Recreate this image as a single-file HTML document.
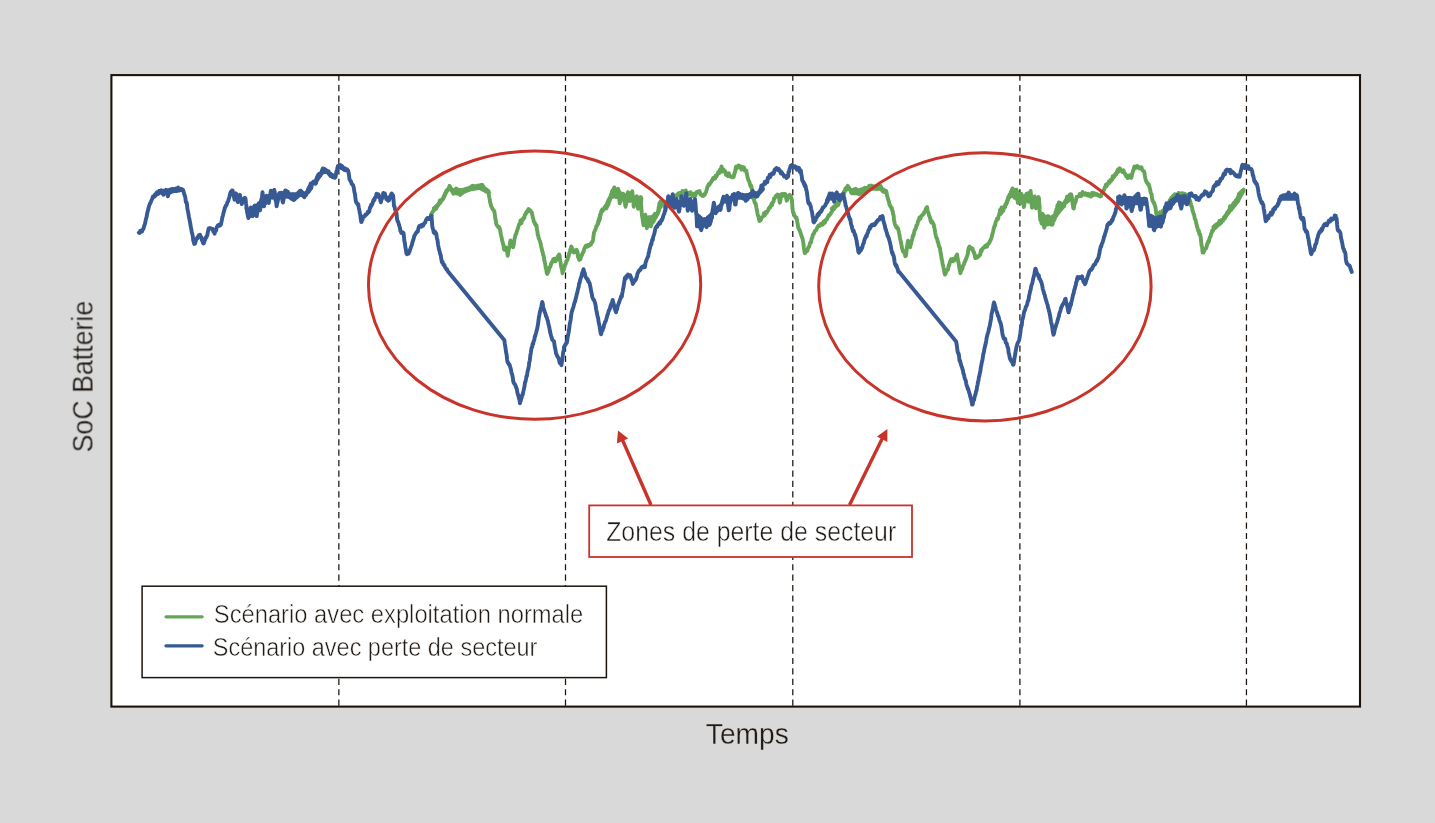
<!DOCTYPE html>
<html><head><meta charset="utf-8">
<style>
html,body{margin:0;padding:0;}
body{width:1435px;height:823px;background:#d9d9d9;overflow:hidden;position:relative;}
svg{position:absolute;left:0;top:0;will-change:transform;}
.t{font-family:"Liberation Sans",sans-serif;fill:#211a14;opacity:0.995;}
.w{stroke:#ffffff;stroke-width:0.5px;}
.g{stroke:#d9d9d9;stroke-width:0.3px;}
</style></head>
<body>
<svg width="1435" height="823" viewBox="0 0 1435 823">
<rect x="111.4" y="75.1" width="1248.6" height="631.5" fill="#ffffff"/>
<g stroke="#1c140c" stroke-width="1.25" stroke-dasharray="6.2 4.215" stroke-dashoffset="-0.355" fill="none">
<line x1="338.85" y1="74.3" x2="338.85" y2="706" />
<line x1="565.5" y1="74.3" x2="565.5" y2="706" />
<line x1="792.8" y1="74.3" x2="792.8" y2="706" />
<line x1="1019.9" y1="74.3" x2="1019.9" y2="706" />
<line x1="1246.45" y1="74.3" x2="1246.45" y2="706" />
</g>
<path d="M431.0,214.4 L431.5,215.3 L432.0,212.4 L432.5,212.4 L432.9,211.4 L433.4,211.1 L433.9,208.8 L434.4,209.0 L434.9,208.2 L435.4,207.4 L435.9,206.6 L436.3,206.2 L436.8,205.9 L437.3,205.5 L437.8,205.1 L438.3,203.9 L438.8,204.2 L439.3,202.9 L439.8,200.5 L440.2,202.9 L440.7,201.2 L441.2,200.4 L441.7,200.3 L442.2,199.8 L442.6,199.0 L443.1,198.2 L443.6,197.4 L444.1,195.6 L444.6,195.2 L445.1,193.2 L445.6,193.3 L446.1,191.5 L446.6,190.4 L447.1,190.2 L447.6,189.7 L448.1,189.2 L448.5,188.4 L449.0,188.1 L449.5,185.8 L450.0,186.7 L450.5,187.6 L451.0,188.5 L451.5,189.4 L451.9,191.1 L452.4,191.1 L452.9,192.4 L453.4,193.5 L453.9,191.8 L454.4,191.9 L454.9,190.3 L455.3,189.6 L455.8,190.3 L456.3,188.6 L456.8,189.6 L457.3,190.1 L457.8,191.0 L458.2,191.1 L458.7,192.1 L459.2,193.4 L459.7,193.2 L460.2,194.9 L460.7,194.4 L461.2,193.1 L461.7,193.3 L462.1,192.2 L462.6,192.9 L463.1,192.0 L463.6,190.9 L464.1,190.6 L464.6,189.7 L465.1,190.0 L465.5,190.2 L466.0,189.7 L466.5,190.2 L467.0,190.3 L467.5,189.8 L467.9,189.6 L468.4,190.0 L468.9,189.6 L469.4,188.9 L469.9,188.9 L470.4,188.0 L470.9,188.3 L471.3,187.0 L471.8,186.2 L472.3,186.2 L472.8,185.7 L473.2,185.8 L473.7,186.1 L474.1,186.8 L474.6,187.6 L475.0,187.7 L475.5,186.5 L476.0,187.1 L476.5,186.8 L477.0,186.6 L477.5,186.7 L478.0,185.6 L478.5,186.2 L479.0,185.7 L479.5,185.5 L479.9,185.5 L480.4,185.3 L480.9,185.1 L481.4,184.9 L481.8,185.2 L482.3,185.0 L482.8,186.6 L483.2,186.9 L483.6,187.7 L484.1,188.3 L484.6,188.7 L485.0,189.7 L485.5,190.2 L486.0,191.5 L486.5,189.3 L486.9,191.0 L487.4,191.3 L487.9,190.9 L488.4,191.0 L488.8,194.2 L489.3,197.3 L489.7,199.1 L490.2,202.6 L490.7,204.0 L491.2,206.2 L491.7,207.1 L492.1,208.0 L492.6,209.2 L493.0,209.5 L493.5,210.3 L493.9,210.6 L494.4,211.7 L494.9,215.3 L495.4,219.0 L495.9,221.1 L496.4,224.4 L496.9,225.1 L497.3,226.0 L497.8,226.1 L498.3,227.4 L498.8,227.5 L499.2,227.1 L499.7,228.5 L500.2,230.1 L500.7,233.6 L501.2,235.9 L501.7,237.8 L502.1,240.5 L502.6,241.9 L503.0,243.9 L503.5,244.7 L503.9,248.8 L504.4,249.8 L504.9,248.6 L505.4,249.5 L505.9,247.5 L506.4,247.8 L506.8,250.0 L507.3,253.2 L507.7,255.8 L508.1,252.9 L508.6,250.2 L509.0,248.8 L509.5,246.1 L509.9,243.3 L510.4,240.5 L510.8,241.4 L511.3,242.1 L511.8,243.5 L512.2,244.6 L512.6,246.0 L513.1,247.2 L513.6,245.0 L514.1,241.7 L514.6,238.6 L515.1,236.5 L515.6,234.5 L516.1,234.4 L516.6,232.1 L517.1,230.6 L517.6,229.1 L518.1,227.8 L518.6,226.0 L519.1,224.4 L519.6,224.6 L520.0,223.6 L520.5,220.4 L521.0,221.7 L521.5,223.2 L521.9,219.5 L522.4,219.9 L522.9,219.9 L523.3,218.5 L523.8,217.8 L524.3,217.9 L524.7,215.2 L525.2,214.3 L525.7,214.2 L526.1,212.9 L526.6,211.8 L527.1,212.1 L527.6,211.0 L528.0,210.0 L528.5,209.1 L529.0,209.3 L529.4,210.2 L529.9,210.4 L530.4,210.5 L530.9,211.8 L531.3,212.2 L531.8,212.4 L532.3,214.8 L532.8,217.6 L533.3,218.7 L533.8,221.8 L534.2,222.2 L534.7,222.5 L535.1,224.4 L535.6,224.4 L536.0,226.0 L536.5,225.1 L536.9,229.5 L537.4,231.5 L537.8,235.1 L538.2,235.7 L538.7,238.1 L539.1,239.0 L539.6,240.4 L540.0,241.1 L540.5,243.2 L541.0,245.6 L541.4,247.3 L541.9,249.5 L542.3,251.4 L542.8,252.6 L543.2,255.2 L543.7,256.0 L544.2,259.7 L544.7,261.8 L545.2,264.2 L545.7,267.6 L546.2,269.2 L546.7,272.6 L547.2,273.9 L547.6,272.9 L548.1,272.1 L548.5,270.9 L548.9,270.0 L549.4,267.4 L549.8,267.2 L550.3,266.8 L550.8,265.0 L551.3,263.1 L551.7,263.1 L552.2,261.7 L552.7,261.2 L553.2,259.2 L553.6,259.9 L554.1,259.9 L554.5,258.7 L554.9,261.2 L555.4,261.3 L555.8,260.5 L556.3,260.2 L556.8,259.1 L557.3,258.8 L557.7,256.5 L558.2,256.7 L558.7,255.4 L559.2,254.5 L559.7,256.5 L560.1,260.1 L560.6,262.8 L561.1,266.4 L561.6,268.5 L562.0,269.4 L562.5,273.2 L563.0,270.4 L563.5,270.3 L564.0,268.8 L564.4,266.8 L564.9,265.0 L565.4,264.5 L565.9,263.2 L566.3,261.3 L566.8,260.5 L567.2,260.5 L567.6,258.9 L568.1,257.1 L568.5,256.5 L569.0,254.0 L569.4,253.0 L569.9,252.7 L570.3,249.5 L570.8,249.4 L571.2,246.5 L571.7,246.9 L572.1,248.4 L572.5,250.0 L573.0,250.0 L573.5,251.5 L573.9,252.5 L574.4,251.1 L574.8,252.1 L575.2,252.0 L575.7,250.2 L576.1,250.4 L576.6,249.8 L577.0,251.2 L577.5,251.7 L577.9,256.8 L578.3,257.0 L578.8,258.8 L579.2,259.9 L579.7,259.4 L580.1,258.5 L580.5,259.2 L581.0,255.5 L581.5,255.8 L581.9,255.2 L582.4,253.7 L582.9,252.7 L583.4,252.2 L583.9,250.0 L584.4,248.4 L584.9,247.4 L585.4,247.3 L585.9,245.8 L586.4,246.4 L586.9,246.2 L587.4,246.7 L587.9,245.1 L588.4,246.1 L588.9,245.8 L589.4,245.2 L589.9,245.2 L590.4,244.1 L590.8,244.7 L591.2,243.0 L591.7,242.7 L592.1,241.7 L592.6,241.8 L593.0,240.1 L593.5,236.0 L593.9,233.1 L594.4,231.6 L594.9,230.7 L595.3,229.5 L595.8,228.6 L596.3,226.2 L596.8,226.3 L597.3,224.4 L597.8,224.4 L598.2,223.7 L598.7,221.1 L599.2,220.7 L599.7,219.5 L600.2,216.8 L600.7,213.3 L601.2,212.6 L601.7,210.7 L602.2,209.5 L602.7,210.6 L603.1,209.4 L603.6,209.1 L604.1,208.8 L604.6,207.3 L605.1,208.2 L605.5,206.2 L606.0,207.6 L606.5,208.2 L607.0,206.8 L607.5,204.6 L608.0,205.1 L608.5,204.3 L609.0,202.0 L609.5,200.4 L610.0,199.9 L610.4,197.6 L610.9,196.1 L611.4,194.5 L611.9,192.0 L612.4,191.5 L612.8,189.9 L613.3,191.8 L613.8,188.8 L614.3,187.4 L614.8,189.7 L615.3,191.2 L615.8,196.1 L616.3,197.1 L616.8,194.1 L617.2,194.1 L617.7,191.7 L618.2,188.8 L618.7,193.7 L619.2,198.0 L619.7,203.4 L620.2,202.0 L620.7,199.6 L621.2,199.8 L621.6,199.2 L622.1,197.2 L622.6,195.9 L623.1,193.7 L623.6,195.8 L624.1,199.2 L624.5,200.7 L625.0,203.8 L625.5,206.8 L626.0,204.5 L626.5,203.0 L626.9,198.1 L627.4,195.1 L627.9,192.2 L628.4,192.9 L628.9,196.7 L629.4,198.1 L629.9,201.0 L630.4,197.9 L630.9,195.9 L631.3,195.3 L631.8,192.9 L632.3,191.3 L632.8,197.0 L633.3,201.4 L633.8,206.8 L634.3,205.0 L634.8,204.4 L635.2,202.1 L635.7,200.3 L636.2,199.1 L636.7,196.1 L637.2,200.5 L637.6,203.8 L638.1,208.8 L638.6,205.8 L639.1,202.9 L639.6,202.1 L640.1,199.1 L640.6,197.1 L641.1,203.7 L641.5,210.1 L642.0,215.6 L642.5,218.2 L643.0,222.2 L643.5,225.3 L644.0,223.6 L644.5,220.0 L644.9,218.0 L645.4,214.6 L645.9,219.0 L646.4,222.9 L646.9,228.2 L647.4,225.9 L647.9,222.4 L648.3,222.3 L648.8,219.2 L649.3,217.5 L649.8,221.5 L650.3,222.4 L650.8,226.3 L651.3,224.9 L651.8,223.5 L652.3,221.6 L652.7,220.5 L653.2,218.0 L653.7,216.3 L654.2,215.6 L654.7,214.1 L655.2,214.4 L655.7,213.9 L656.2,214.3 L656.6,213.5 L657.1,212.9 L657.6,212.5 L658.1,212.7 L658.6,207.9 L659.0,205.9 L659.5,202.9 L660.0,203.1 L660.5,201.5 L661.0,202.2 L661.5,202.7 L662.0,202.0 L662.5,202.4 L663.0,204.1 L663.4,204.5 L663.9,205.8 L664.4,207.2 L664.8,205.9 L665.3,205.3 L665.7,203.0 L666.2,203.7 L666.6,202.4 L667.1,202.4 L667.5,201.0 L668.0,201.0 L668.5,200.8 L669.0,199.6 L669.5,200.1 L670.0,201.1 L670.5,197.9 L671.0,197.5 L671.5,198.8 L672.0,198.0 L672.5,198.5 L672.9,197.2 L673.4,197.8 L673.8,197.4 L674.2,197.3 L674.7,197.8 L675.1,195.7 L675.6,196.1 L676.1,196.5 L676.6,195.8 L677.1,194.8 L677.5,195.6 L678.0,193.7 L678.5,193.3 L679.0,195.4 L679.5,194.2 L680.0,193.0 L680.5,195.4 L681.0,194.6 L681.5,193.0 L681.9,192.5 L682.4,191.0 L682.9,192.8 L683.4,192.7 L683.9,191.3 L684.4,194.3 L684.8,191.3 L685.3,193.0 L685.8,190.5 L686.2,192.8 L686.7,194.4 L687.2,193.2 L687.7,192.9 L688.2,192.7 L688.7,193.1 L689.2,194.0 L689.6,194.6 L690.1,193.7 L690.6,192.2 L691.1,194.2 L691.6,194.5 L692.1,195.1 L692.6,196.3 L693.0,194.3 L693.5,194.4 L694.0,193.7 L694.5,194.9 L695.0,194.2 L695.5,195.5 L696.0,192.6 L696.5,193.2 L697.0,191.8 L697.4,191.7 L697.9,191.8 L698.4,192.1 L698.9,191.3 L699.4,191.1 L699.9,192.2 L700.4,194.4 L700.8,194.2 L701.3,194.9 L701.8,195.3 L702.3,195.3 L702.8,196.1 L703.2,195.9 L703.7,195.5 L704.1,194.5 L704.6,194.9 L705.0,193.4 L705.5,192.9 L706.0,192.2 L706.5,190.2 L706.9,189.3 L707.4,187.0 L707.9,186.1 L708.4,185.0 L708.9,184.0 L709.3,185.0 L709.8,183.9 L710.3,183.0 L710.8,182.2 L711.3,182.0 L711.8,180.4 L712.3,180.5 L712.8,179.4 L713.2,177.9 L713.7,178.4 L714.2,177.4 L714.7,177.4 L715.2,178.4 L715.7,175.6 L716.2,175.3 L716.6,176.4 L717.1,174.9 L717.6,174.4 L718.1,172.3 L718.6,173.1 L719.1,171.4 L719.5,173.1 L720.0,169.5 L720.5,169.1 L721.0,169.1 L721.5,166.5 L722.0,168.8 L722.5,171.7 L722.9,169.8 L723.4,169.2 L723.9,170.7 L724.4,170.6 L724.9,170.9 L725.4,171.7 L725.9,174.8 L726.4,174.9 L726.9,175.1 L727.4,174.0 L727.9,176.1 L728.4,173.9 L728.8,173.2 L729.3,176.4 L729.8,176.4 L730.3,176.4 L730.8,176.5 L731.3,176.4 L731.8,177.3 L732.2,177.3 L732.7,177.0 L733.2,177.3 L733.7,176.9 L734.2,174.6 L734.7,172.4 L735.1,172.2 L735.6,168.5 L736.1,166.7 L736.6,168.6 L737.1,167.0 L737.5,166.3 L738.0,167.2 L738.5,165.4 L739.0,165.7 L739.5,165.9 L740.0,166.1 L740.5,166.8 L741.0,167.8 L741.4,169.6 L741.9,168.4 L742.4,167.1 L742.9,168.6 L743.4,168.0 L743.9,167.3 L744.4,170.2 L744.8,170.6 L745.3,170.4 L745.8,170.7 L746.3,170.6 L746.8,173.7 L747.3,176.0 L747.8,178.3 L748.3,180.0 L748.8,180.9 L749.2,181.3 L749.7,183.2 L750.2,185.1 L750.7,186.6 L751.2,185.7 L751.7,188.1 L752.2,191.2 L752.6,193.8 L753.1,197.8 L753.6,199.3 L754.1,199.9 L754.6,202.3 L755.1,203.2 L755.6,203.6 L756.1,205.7 L756.5,208.1 L757.0,210.5 L757.5,213.3 L758.0,215.7 L758.5,216.5 L759.0,219.5 L759.5,221.1 L760.0,219.4 L760.5,220.5 L761.0,219.5 L761.4,217.7 L761.9,217.3 L762.4,217.2 L762.9,216.7 L763.4,216.2 L763.9,213.3 L764.3,214.9 L764.8,215.3 L765.3,213.3 L765.8,212.0 L766.3,212.4 L766.8,212.7 L767.3,211.3 L767.8,210.7 L768.2,210.4 L768.7,208.5 L769.2,208.2 L769.7,207.3 L770.2,207.5 L770.7,205.5 L771.2,205.3 L771.7,203.6 L772.1,205.1 L772.6,203.1 L773.1,201.7 L773.6,201.5 L774.1,198.2 L774.5,198.5 L775.0,197.6 L775.5,196.9 L776.0,195.8 L776.5,196.1 L777.0,194.8 L777.5,194.5 L777.9,196.1 L778.4,197.1 L778.9,194.9 L779.4,200.7 L779.9,202.7 L780.4,200.2 L780.8,197.6 L781.3,196.3 L781.8,193.9 L782.3,194.5 L782.8,195.8 L783.3,194.1 L783.8,193.7 L784.2,195.5 L784.7,194.0 L785.2,194.0 L785.7,194.9 L786.2,198.3 L786.7,200.7 L787.2,199.6 L787.7,197.8 L788.2,197.6 L788.6,196.4 L789.1,195.7 L789.6,194.9 L790.1,195.2 L790.6,197.4 L791.1,197.5 L791.6,198.8 L792.1,202.9 L792.5,208.6 L793.0,212.4 L793.5,212.7 L794.0,214.9 L794.4,215.7 L794.9,216.0 L795.4,217.2 L795.9,217.9 L796.3,217.3 L796.8,219.0 L797.3,222.1 L797.7,224.1 L798.2,227.7 L798.6,228.0 L799.1,229.6 L799.5,229.8 L800.0,231.3 L800.4,232.1 L800.8,233.7 L801.3,235.4 L801.7,236.3 L802.2,238.0 L802.6,238.6 L803.0,241.0 L803.5,244.2 L803.9,247.8 L804.4,251.1 L804.8,253.2 L805.3,252.9 L805.8,251.6 L806.2,250.6 L806.7,250.1 L807.2,251.0 L807.7,249.6 L808.2,247.7 L808.7,247.0 L809.2,246.4 L809.6,245.0 L810.1,243.0 L810.6,242.3 L811.0,242.3 L811.5,239.5 L811.9,238.1 L812.4,237.0 L812.8,235.0 L813.3,234.0 L813.8,234.0 L814.2,232.7 L814.7,231.4 L815.2,230.7 L815.7,230.6 L816.2,230.0 L816.7,229.0 L817.2,227.9 L817.6,226.9 L818.1,226.2 L818.6,225.5 L819.1,226.0 L819.5,226.1 L820.0,225.1 L820.5,225.3 L820.9,223.7 L821.4,224.2 L821.8,224.4 L822.3,224.8 L822.8,223.5 L823.2,224.0 L823.6,221.4 L824.1,222.6 L824.5,222.2 L825.0,222.6 L825.4,220.1 L825.9,219.8 L826.4,219.5 L826.8,219.6 L827.3,218.6 L827.8,216.7 L828.3,216.5 L828.7,215.3 L829.2,215.5 L829.7,214.8 L830.1,214.4 L830.6,214.1 L831.1,212.8 L831.6,212.2 L832.0,211.5 L832.5,210.0 L833.0,208.9 L833.4,209.5 L833.9,209.3 L834.4,208.0 L834.9,207.0 L835.3,207.3 L835.8,206.7 L836.3,206.2 L836.7,205.9 L837.2,203.6 L837.7,203.9 L838.2,205.0 L838.6,203.8 L839.1,202.3 L839.6,201.4 L840.0,200.5 L840.5,199.8 L840.9,198.4 L841.4,198.1 L841.8,197.6 L842.3,196.9 L842.7,194.8 L843.2,194.6 L843.6,193.8 L844.1,191.5 L844.5,191.4 L845.0,190.2 L845.4,188.6 L845.9,189.1 L846.4,188.4 L846.9,187.1 L847.3,186.7 L847.8,185.9 L848.3,187.3 L848.7,188.3 L849.2,187.7 L849.7,189.4 L850.2,189.5 L850.6,190.0 L851.1,192.5 L851.6,192.8 L852.0,192.2 L852.5,192.1 L853.0,191.2 L853.5,189.7 L853.9,189.8 L854.4,189.2 L854.9,189.3 L855.4,191.3 L855.9,188.8 L856.4,191.5 L856.8,191.2 L857.3,192.7 L857.8,193.6 L858.3,192.6 L858.8,193.6 L859.3,194.2 L859.8,193.5 L860.2,190.9 L860.7,193.1 L861.2,190.2 L861.7,189.6 L862.1,190.9 L862.6,189.1 L863.1,189.2 L863.6,189.2 L864.1,188.8 L864.6,187.8 L865.1,189.8 L865.5,189.5 L866.0,188.2 L866.5,189.2 L867.0,187.8 L867.5,187.6 L868.0,187.6 L868.5,187.0 L869.0,186.0 L869.5,186.6 L869.9,185.9 L870.4,186.8 L870.9,186.4 L871.4,185.6 L871.9,185.9 L872.4,187.2 L872.9,186.7 L873.4,188.1 L873.9,186.6 L874.3,186.8 L874.8,186.8 L875.3,187.8 L875.8,187.7 L876.3,188.1 L876.8,187.9 L877.3,189.0 L877.7,188.0 L878.2,186.6 L878.7,187.2 L879.2,186.4 L879.6,186.1 L880.1,186.0 L880.6,185.9 L881.0,187.1 L881.5,188.6 L881.9,190.0 L882.4,190.3 L882.8,191.4 L883.3,190.9 L883.8,191.7 L884.2,191.7 L884.7,191.7 L885.2,191.2 L885.6,192.1 L886.1,191.1 L886.6,192.5 L887.0,195.3 L887.5,196.9 L887.9,198.8 L888.3,200.2 L888.7,200.8 L889.2,203.0 L889.6,205.0 L890.1,205.2 L890.5,206.7 L890.9,206.8 L891.4,208.4 L891.8,207.8 L892.3,210.9 L892.7,211.1 L893.1,214.0 L893.6,215.4 L894.0,219.5 L894.5,222.4 L894.9,224.2 L895.4,225.3 L895.8,225.9 L896.3,227.2 L896.7,226.9 L897.2,228.3 L897.6,227.8 L898.1,228.6 L898.5,230.3 L899.0,232.7 L899.4,234.4 L899.9,237.6 L900.3,239.5 L900.7,241.0 L901.2,243.7 L901.6,245.7 L902.1,248.6 L902.5,249.4 L903.0,251.6 L903.4,250.9 L903.9,252.1 L904.4,253.0 L904.9,253.6 L905.3,256.2 L905.8,255.9 L906.2,253.7 L906.7,249.6 L907.1,245.8 L907.6,243.2 L908.0,240.6 L908.4,241.9 L908.9,244.3 L909.3,243.7 L909.8,246.9 L910.2,247.2 L910.6,244.4 L911.1,243.9 L911.5,241.1 L912.0,239.9 L912.4,238.4 L912.9,235.3 L913.3,236.0 L913.8,234.2 L914.2,232.1 L914.7,229.9 L915.1,229.9 L915.6,228.6 L916.1,227.3 L916.5,225.1 L917.0,225.2 L917.5,223.5 L918.0,221.5 L918.4,220.5 L918.9,219.8 L919.4,217.5 L919.9,219.1 L920.4,218.7 L920.9,217.3 L921.3,215.9 L921.8,215.4 L922.3,215.4 L922.8,214.4 L923.3,214.4 L923.8,213.7 L924.2,211.9 L924.7,212.2 L925.2,211.5 L925.7,209.3 L926.1,208.2 L926.6,207.8 L927.1,207.1 L927.5,210.6 L928.0,212.3 L928.5,212.8 L929.0,215.6 L929.4,215.8 L929.9,217.7 L930.3,218.2 L930.6,221.0 L931.0,221.8 L931.5,222.5 L931.9,221.2 L932.4,222.6 L932.8,222.6 L933.2,223.8 L933.7,224.4 L934.2,227.2 L934.7,229.4 L935.2,232.5 L935.7,235.1 L936.2,237.4 L936.7,238.2 L937.2,239.2 L937.7,241.8 L938.2,242.5 L938.7,245.1 L939.2,247.0 L939.7,247.2 L940.2,250.1 L940.7,253.5 L941.2,255.6 L941.7,259.2 L942.2,261.0 L942.6,264.3 L943.1,265.4 L943.6,268.1 L944.1,270.3 L944.5,273.2 L945.0,274.6 L945.5,273.7 L946.0,272.4 L946.5,271.2 L946.9,270.0 L947.4,270.0 L947.9,269.7 L948.4,267.2 L948.9,264.8 L949.3,265.2 L949.8,262.5 L950.2,261.4 L950.6,260.3 L951.1,259.2 L951.6,259.1 L952.0,259.3 L952.5,259.3 L953.0,261.2 L953.5,259.1 L953.9,259.8 L954.4,260.5 L954.9,258.9 L955.3,258.6 L955.8,256.6 L956.2,256.5 L956.6,255.6 L957.1,254.5 L957.6,258.5 L958.0,260.3 L958.5,262.5 L959.0,265.2 L959.5,269.1 L959.9,270.4 L960.4,273.2 L960.9,271.5 L961.4,270.3 L961.9,269.2 L962.3,268.8 L962.8,266.3 L963.3,265.3 L963.8,264.5 L964.2,263.4 L964.7,261.6 L965.1,261.6 L965.5,259.8 L966.0,259.3 L966.4,257.9 L966.9,256.5 L967.3,255.4 L967.8,253.8 L968.2,250.2 L968.6,248.1 L969.1,247.2 L969.6,246.6 L970.0,247.9 L970.5,248.1 L971.0,247.9 L971.5,248.1 L971.9,249.4 L972.4,248.5 L972.9,250.5 L973.4,251.3 L973.9,253.0 L974.3,252.8 L974.8,256.0 L975.3,258.0 L975.8,257.9 L976.3,257.7 L976.8,256.9 L977.3,257.7 L977.8,256.2 L978.3,256.3 L978.8,256.3 L979.3,255.4 L979.8,255.2 L980.2,254.6 L980.7,251.6 L981.1,250.1 L981.6,251.2 L982.0,250.0 L982.5,248.5 L983.0,248.3 L983.5,247.6 L984.0,247.5 L984.5,247.5 L985.0,246.0 L985.5,246.6 L986.0,245.6 L986.5,245.8 L987.0,246.6 L987.5,244.7 L988.0,244.0 L988.5,243.9 L989.0,243.1 L989.5,242.5 L990.0,240.7 L990.5,240.5 L991.0,238.9 L991.5,237.8 L992.0,235.6 L992.5,233.8 L993.0,231.9 L993.5,229.4 L994.0,227.9 L994.5,225.8 L995.0,225.6 L995.5,222.6 L996.0,221.3 L996.5,220.3 L997.0,218.8 L997.5,219.6 L998.0,218.9 L998.5,216.4 L999.0,215.1 L999.5,213.1 L1000.0,212.3 L1000.5,209.7 L1001.0,210.1 L1001.5,207.5 L1002.0,208.7 L1002.5,210.1 L1003.0,207.8 L1003.5,207.3 L1004.0,207.0 L1004.5,207.1 L1005.0,207.1 L1005.4,204.5 L1005.9,204.1 L1006.3,203.7 L1006.8,201.7 L1007.2,200.4 L1007.7,199.5 L1008.1,197.6 L1008.6,196.4 L1009.1,197.5 L1009.6,194.5 L1010.0,195.6 L1010.5,193.7 L1011.0,193.5 L1011.5,192.4 L1012.0,189.6 L1012.5,188.4 L1013.0,190.0 L1013.5,193.1 L1014.0,196.5 L1014.5,197.7 L1015.0,196.2 L1015.5,194.1 L1016.0,191.6 L1016.5,189.7 L1017.0,195.0 L1017.4,196.9 L1017.9,203.1 L1018.4,200.7 L1018.8,201.8 L1019.3,199.5 L1019.8,198.4 L1020.3,194.7 L1020.7,194.3 L1021.2,193.7 L1021.7,195.6 L1022.1,198.1 L1022.5,201.5 L1023.0,202.1 L1023.5,205.0 L1023.9,207.1 L1024.3,204.2 L1024.8,202.4 L1025.2,200.7 L1025.7,198.5 L1026.1,196.8 L1026.6,193.7 L1027.1,194.6 L1027.6,198.4 L1028.1,200.1 L1028.6,201.7 L1029.1,198.3 L1029.6,197.5 L1030.1,193.1 L1030.6,191.0 L1031.0,196.2 L1031.5,202.6 L1031.9,207.7 L1032.4,207.1 L1032.8,203.6 L1033.2,203.4 L1033.7,200.5 L1034.1,197.6 L1034.6,196.4 L1035.0,201.1 L1035.5,204.5 L1035.9,208.4 L1036.4,205.9 L1036.8,204.5 L1037.2,203.8 L1037.7,201.1 L1038.1,198.7 L1038.6,197.0 L1039.0,203.5 L1039.4,207.3 L1039.9,214.8 L1040.3,220.0 L1040.8,219.9 L1041.2,216.5 L1041.7,215.3 L1042.1,214.3 L1042.6,213.8 L1043.0,217.1 L1043.4,220.1 L1043.8,224.3 L1044.2,227.8 L1044.7,225.5 L1045.2,225.1 L1045.7,223.9 L1046.2,222.4 L1046.6,220.0 L1047.1,219.8 L1047.6,216.2 L1048.1,216.1 L1048.6,216.5 L1049.1,218.0 L1049.6,220.2 L1050.0,219.7 L1050.5,221.5 L1051.0,223.4 L1051.5,224.7 L1052.0,223.9 L1052.5,224.5 L1053.0,221.2 L1053.4,221.2 L1053.9,220.5 L1054.4,219.6 L1054.8,218.5 L1055.3,217.0 L1055.8,216.1 L1056.3,213.9 L1056.8,210.4 L1057.3,209.9 L1057.8,207.3 L1058.3,204.3 L1058.8,202.5 L1059.3,204.5 L1059.8,203.3 L1060.2,203.1 L1060.7,204.6 L1061.2,204.9 L1061.7,205.4 L1062.2,205.2 L1062.6,206.3 L1063.1,206.1 L1063.6,206.4 L1064.1,206.3 L1064.6,204.3 L1065.1,202.0 L1065.5,200.7 L1066.0,200.9 L1066.5,200.0 L1067.0,196.6 L1067.5,196.7 L1068.0,197.0 L1068.5,196.1 L1069.0,196.2 L1069.5,195.0 L1069.9,194.5 L1070.4,194.7 L1070.9,194.2 L1071.4,194.7 L1071.9,197.7 L1072.3,201.6 L1072.8,204.9 L1073.3,208.3 L1073.8,208.5 L1074.3,204.6 L1074.8,203.6 L1075.2,202.6 L1075.7,201.6 L1076.2,198.7 L1076.7,196.9 L1077.2,196.7 L1077.7,196.6 L1078.2,196.5 L1078.7,196.4 L1079.2,196.1 L1079.7,193.9 L1080.1,195.9 L1080.6,194.6 L1081.1,196.2 L1081.6,193.8 L1082.1,193.8 L1082.6,192.0 L1083.1,194.0 L1083.6,194.4 L1084.0,194.6 L1084.5,194.7 L1085.0,194.2 L1085.5,193.3 L1086.0,194.7 L1086.5,194.7 L1087.0,194.6 L1087.4,195.4 L1087.9,195.2 L1088.4,193.8 L1088.9,195.7 L1089.4,194.8 L1089.8,194.7 L1090.3,195.0 L1090.8,196.6 L1091.2,194.9 L1091.7,195.3 L1092.2,192.8 L1092.7,195.6 L1093.1,193.9 L1093.6,194.7 L1094.1,193.1 L1094.5,193.9 L1095.0,193.8 L1095.5,194.8 L1096.0,194.3 L1096.4,194.7 L1096.9,194.1 L1097.4,194.4 L1097.9,195.5 L1098.4,195.3 L1098.9,195.8 L1099.3,195.3 L1099.8,195.8 L1100.3,196.4 L1100.8,196.2 L1101.2,195.9 L1101.7,193.4 L1102.1,192.3 L1102.6,192.1 L1103.0,191.9 L1103.5,190.4 L1103.9,190.3 L1104.4,188.4 L1104.9,187.6 L1105.4,186.2 L1105.9,184.8 L1106.4,186.5 L1106.9,185.3 L1107.4,183.9 L1107.9,184.1 L1108.4,183.1 L1108.9,181.5 L1109.4,182.8 L1109.8,182.2 L1110.3,181.7 L1110.8,179.7 L1111.3,180.7 L1111.8,179.6 L1112.3,179.6 L1112.7,176.1 L1113.2,177.8 L1113.7,176.4 L1114.2,176.9 L1114.7,174.8 L1115.2,175.2 L1115.7,173.8 L1116.2,174.3 L1116.6,172.2 L1117.1,171.7 L1117.6,170.0 L1118.1,172.2 L1118.6,169.0 L1119.1,169.0 L1119.6,168.3 L1120.1,168.7 L1120.6,169.8 L1121.1,170.1 L1121.6,170.6 L1122.1,171.9 L1122.6,171.6 L1123.1,171.0 L1123.6,170.4 L1124.1,172.5 L1124.6,172.9 L1125.1,174.4 L1125.6,174.5 L1126.1,176.2 L1126.6,175.9 L1127.1,176.4 L1127.6,178.1 L1128.0,175.6 L1128.5,177.4 L1128.9,177.2 L1129.4,175.8 L1129.9,175.2 L1130.3,175.8 L1130.8,176.7 L1131.2,177.9 L1131.7,176.4 L1132.2,173.5 L1132.6,172.8 L1133.1,170.3 L1133.5,170.4 L1134.0,168.2 L1134.4,166.4 L1134.9,166.4 L1135.4,167.1 L1135.9,166.7 L1136.3,167.7 L1136.8,166.2 L1137.3,165.9 L1137.8,166.4 L1138.3,166.8 L1138.7,167.0 L1139.2,168.5 L1139.6,167.4 L1140.1,167.6 L1140.6,167.8 L1141.0,168.0 L1141.5,167.3 L1141.9,169.5 L1142.4,169.7 L1142.9,170.8 L1143.4,171.2 L1143.9,171.1 L1144.4,172.4 L1144.9,175.9 L1145.3,178.2 L1145.8,180.4 L1146.3,181.3 L1146.7,182.4 L1147.2,182.6 L1147.7,183.7 L1148.2,184.6 L1148.6,184.1 L1149.1,185.7 L1149.6,187.4 L1150.1,189.3 L1150.6,192.1 L1151.1,193.8 L1151.6,194.2 L1152.0,198.4 L1152.5,200.4 L1152.9,201.3 L1153.4,202.1 L1153.8,203.4 L1154.2,203.0 L1154.7,205.1 L1155.1,205.8 L1155.6,208.4 L1156.0,211.6 L1156.5,215.1 L1156.9,215.8 L1157.4,214.4 L1157.8,215.2 L1158.2,214.2 L1158.7,213.8 L1159.1,213.8 L1159.6,213.2 L1160.0,212.2 L1160.5,212.7 L1160.9,212.7 L1161.4,213.3 L1161.8,212.5 L1162.3,212.3 L1162.7,210.8 L1163.2,211.1 L1163.7,209.9 L1164.2,210.0 L1164.7,209.5 L1165.2,207.7 L1165.7,208.5 L1166.2,206.7 L1166.7,206.7 L1167.2,205.8 L1167.7,204.5 L1168.2,204.3 L1168.7,203.4 L1169.2,202.5 L1169.7,200.2 L1170.2,199.9 L1170.7,200.8 L1171.2,197.8 L1171.7,197.4 L1172.2,197.4 L1172.7,196.7 L1173.2,195.7 L1173.7,197.2 L1174.2,196.6 L1174.7,194.2 L1175.2,194.4 L1175.7,194.8 L1176.2,195.9 L1176.6,194.7 L1177.1,194.3 L1177.6,195.0 L1178.1,194.8 L1178.6,193.0 L1179.1,193.3 L1179.5,195.3 L1180.0,193.4 L1180.5,193.8 L1181.0,193.9 L1181.5,193.5 L1182.0,195.9 L1182.5,193.2 L1183.0,194.6 L1183.4,194.2 L1183.9,194.4 L1184.4,193.7 L1184.9,194.2 L1185.4,194.8 L1185.9,195.1 L1186.4,196.0 L1186.9,194.8 L1187.4,197.2 L1187.9,197.0 L1188.4,198.4 L1188.9,198.7 L1189.4,199.6 L1189.9,200.4 L1190.4,202.0 L1190.8,204.3 L1191.2,205.8 L1191.7,206.4 L1192.1,207.7 L1192.6,211.1 L1193.0,211.4 L1193.5,214.0 L1193.9,213.9 L1194.3,215.7 L1194.8,219.0 L1195.2,219.1 L1195.7,220.6 L1196.1,222.5 L1196.6,224.7 L1197.0,226.7 L1197.5,227.7 L1197.9,229.8 L1198.4,231.0 L1198.8,230.6 L1199.2,233.4 L1199.7,234.7 L1200.1,234.2 L1200.6,236.5 L1201.1,241.2 L1201.6,245.9 L1202.1,246.8 L1202.6,252.6 L1203.1,251.9 L1203.5,252.4 L1204.0,251.3 L1204.5,249.8 L1205.0,249.2 L1205.4,248.8 L1205.9,248.5 L1206.4,247.6 L1206.9,245.2 L1207.4,243.5 L1207.8,243.3 L1208.3,241.3 L1208.8,241.7 L1209.3,239.2 L1209.8,237.3 L1210.2,237.2 L1210.7,235.6 L1211.2,233.3 L1211.7,233.0 L1212.1,230.6 L1212.6,231.2 L1213.1,230.4 L1213.6,228.1 L1214.1,227.9 L1214.6,226.3 L1215.1,225.5 L1215.6,227.6 L1216.1,226.3 L1216.6,224.4 L1217.1,224.8 L1217.6,224.2 L1218.1,224.5 L1218.6,224.0 L1219.1,223.1 L1219.5,220.8 L1220.0,223.8 L1220.5,221.7 L1221.0,222.7 L1221.5,219.9 L1222.0,220.6 L1222.5,220.7 L1223.0,220.6 L1223.5,219.8 L1224.0,217.1 L1224.5,217.3 L1224.9,218.3 L1225.4,215.6 L1225.9,216.3 L1226.4,214.9 L1226.9,214.5 L1227.4,212.2 L1227.8,213.5 L1228.2,212.7 L1228.7,211.4 L1229.2,210.2 L1229.6,209.9 L1230.0,206.3 L1230.5,207.2 L1231.0,206.7 L1231.4,207.8 L1231.9,206.3 L1232.3,206.4 L1232.8,204.7 L1233.3,204.8 L1233.7,203.0 L1234.2,203.6 L1234.7,203.3 L1235.1,202.3 L1235.5,201.0 L1236.0,200.5 L1236.5,199.9 L1236.9,199.2 L1237.3,198.9 L1237.8,197.5 L1238.3,197.6 L1238.8,194.0 L1239.3,195.3 L1239.8,195.3 L1240.3,192.5 L1240.8,192.7 L1241.3,192.0 L1241.7,193.8 L1242.2,190.6 L1242.7,191.5 L1243.1,190.3 L1243.6,189.6" fill="none" stroke="#65a558" stroke-width="3.9" stroke-linejoin="round" stroke-linecap="round"/>
<path d="M434.0,208.1 L434.5,209.7 L434.9,207.4 L435.4,209.1 L435.8,206.7 L436.3,208.6 L436.7,205.9 L437.2,206.6 L437.6,205.9 L438.1,205.1 L438.5,204.3 L439.0,203.5 L439.4,202.8 L439.9,202.0 L440.3,200.9 L440.8,201.5 L441.2,200.2 L441.7,200.5 L442.1,199.5 L442.6,199.4 L443.0,198.8 L443.5,198.1 L443.9,197.1 L444.4,196.1 L444.8,195.1 L445.3,194.1 L445.7,193.1 L446.2,192.1 L446.6,191.5 L447.1,191.1 L447.5,190.6 L448.0,190.1 L448.4,189.6 L448.9,189.1 L449.3,188.6 L449.8,188.1 L450.2,188.2 L450.7,188.8 L451.1,189.4 L451.6,189.9 L452.0,190.4 L452.5,191.4 L452.9,191.2 L453.4,193.4 L453.8,189.9 L454.3,193.4 L454.7,189.7 L455.2,193.4 L455.6,189.6 L456.1,193.4 L456.5,189.5 L457.0,193.5 L457.4,189.7 L457.9,193.7 L458.3,189.8 L458.8,193.8 L459.2,190.0 L459.7,194.0 L460.1,190.1 L460.6,193.7 L461.0,190.0 L461.5,193.2 L462.0,189.9 L462.4,192.8 L462.9,189.7 L463.3,192.4 L463.8,189.6 L464.2,191.9 L464.7,189.4 L465.1,191.5 L465.6,189.1 L466.0,191.1 L466.5,188.8 L466.9,190.7 L467.4,188.5 L467.8,190.3 L468.3,188.2 L468.7,190.0 L469.2,187.8 L469.6,189.7 L470.1,187.4 L470.5,189.5 L471.0,186.9 L471.4,189.2 L471.9,186.5 L472.3,189.1 L472.8,186.4 L473.2,189.0 L473.7,186.4 L474.1,188.8 L474.6,186.4 L475.0,188.7 L475.5,186.4 L475.9,188.6 L476.4,186.3 L476.8,188.4 L477.3,186.2 L477.7,188.3 L478.2,186.0 L478.6,188.1 L479.1,185.9 L479.5,188.0 L480.0,185.8 L480.4,188.1 L480.9,185.9 L481.3,188.9 L481.8,185.9 L482.2,189.6 L482.7,185.9 L483.1,189.8 L483.6,187.0 L484.0,190.2 L484.5,188.2 L484.9,190.6 L485.4,189.3 L485.8,190.9 L486.3,190.2 L486.7,191.4 L487.2,191.1 L487.6,191.8 L488.1,192.0 L488.5,192.3 L489.0,192.6 M598.0,222.1 L598.5,220.7 L598.9,219.3 L599.4,217.9 L599.8,216.4 L600.3,215.0 L600.7,213.6 L601.2,212.2 L601.6,210.9 L602.1,211.1 L602.5,210.3 L603.0,210.0 L603.4,209.6 L603.9,209.2 L604.3,208.7 L604.8,208.3 L605.2,207.9 L605.7,207.1 L606.1,206.0 L606.6,204.8 L607.0,203.7 L607.5,202.6 L607.9,201.5 L608.4,200.4 L608.9,199.4 L609.3,198.7 L609.8,197.8 L610.2,197.4 L610.7,195.8 L611.1,196.3 L611.6,193.8 L612.0,197.0 L612.5,190.8 L612.9,196.8 L613.4,190.3 L613.8,196.6 L614.3,189.8 L614.7,196.4 L615.2,189.2 L615.6,196.3 L616.1,189.6 L616.5,196.7 L617.0,190.1 L617.4,197.0 L617.9,190.7 L618.3,197.4 L618.8,191.3 L619.2,197.5 L619.7,192.3 L620.2,197.5 L620.6,193.3 L621.1,197.5 L621.5,194.3 L622.0,197.5 L622.4,195.2 L622.9,197.9 L623.3,195.4 L623.8,198.6 L624.2,195.7 L624.7,199.3 L625.1,195.7 L625.6,199.7 L626.0,195.2 L626.5,199.7 L626.9,194.7 L627.4,199.7 L627.8,194.2 L628.3,199.7 L628.7,193.7 L629.2,199.7 L629.6,193.5 L630.1,199.7 L630.5,193.3 L631.0,199.7 L631.5,193.1 L631.9,199.7 L632.4,195.8 L632.8,198.9 L633.3,197.7 L633.7,200.2 L634.2,199.6 L634.6,201.5 L635.1,198.9 L635.5,203.7 L636.0,198.5 L636.4,203.7 L636.9,198.1 L637.3,203.7 L637.8,197.8 L638.2,203.7 L638.7,197.8 L639.1,203.7 L639.6,197.9 L640.0,203.7 L640.5,198.1 L640.9,203.7 L641.4,198.3 M644.0,216.2 L644.5,223.2 L644.9,216.7 L645.4,224.1 L645.8,217.3 L646.3,225.0 L646.8,217.8 L647.2,225.8 L647.7,217.7 L648.1,226.0 L648.6,217.6 L649.1,225.5 L649.5,217.4 L650.0,225.0 L650.4,217.3 L650.9,224.5 L651.4,217.4 L651.8,223.2 L652.3,216.8 L652.7,222.4 L653.2,216.3 L653.6,221.5 L654.1,215.8 L654.6,219.4 L655.0,216.0 L655.5,217.8 L655.9,214.7 L656.4,216.3 L656.9,213.5 L657.3,214.7 L657.8,212.3 L658.2,212.1 L658.7,210.9 L659.2,209.6 L659.6,208.4 L660.1,207.2 L660.5,205.9 L661.0,204.7 M1000.0,210.2 L1000.5,214.0 L1000.9,209.8 L1001.4,212.9 L1001.8,209.5 L1002.3,211.8 L1002.7,209.1 L1003.2,210.7 L1003.6,209.1 L1004.1,208.2 L1004.5,207.3 L1005.0,206.4 L1005.4,205.5 L1005.9,204.7 L1006.4,203.4 L1006.8,202.8 L1007.3,201.6 L1007.7,200.5 L1008.2,199.3 L1008.6,198.2 L1009.1,197.0 L1009.5,195.9 L1010.0,194.7 L1010.4,196.5 L1010.9,191.8 L1011.4,196.2 L1011.8,190.9 L1012.3,195.8 L1012.7,190.0 L1013.2,195.4 L1013.6,189.8 L1014.1,195.9 L1014.5,190.3 L1015.0,197.0 L1015.4,190.9 L1015.9,198.1 L1016.3,191.4 L1016.8,199.1 L1017.3,192.3 L1017.7,199.7 L1018.2,193.4 L1018.6,200.2 L1019.1,194.5 L1019.5,200.8 L1020.0,195.6 L1020.4,201.8 L1020.9,195.5 L1021.3,202.3 L1021.8,195.9 L1022.2,202.9 L1022.7,196.2 L1023.2,203.4 L1023.6,196.9 L1024.1,202.1 L1024.5,196.2 L1025.0,201.0 L1025.4,195.5 L1025.9,199.9 L1026.3,194.7 L1026.8,199.8 L1027.2,193.6 L1027.7,200.3 L1028.1,193.4 L1028.6,200.9 L1029.1,193.2 L1029.5,201.4 L1030.0,193.0 L1030.4,200.9 L1030.9,195.7 L1031.3,202.0 L1031.8,197.1 L1032.2,203.1 L1032.7,198.5 L1033.1,204.2 L1033.6,198.3 L1034.1,206.0 L1034.5,198.3 L1035.0,206.1 L1035.4,198.3 L1035.9,206.3 L1036.3,198.3 L1036.8,206.4 L1037.2,198.5 L1037.7,206.7 L1038.1,198.7 L1038.6,207.2 L1039.0,199.0 L1039.5,207.6 M1041.0,215.2 L1041.5,223.4 L1041.9,215.3 L1042.4,223.8 L1042.8,215.5 L1043.3,224.2 L1043.7,215.7 L1044.2,224.6 L1044.6,216.1 L1045.1,224.6 L1045.5,216.9 L1046.0,224.5 L1046.4,217.6 L1046.9,224.5 L1047.3,218.4 L1047.8,224.4 L1048.2,218.1 L1048.7,224.2 L1049.2,217.8 L1049.6,224.0 L1050.1,217.4 L1050.5,223.8 L1051.0,217.9 L1051.4,221.9 L1051.9,217.2 L1052.3,220.6 L1052.8,216.4 L1053.2,219.2 L1053.7,215.6 L1054.1,216.4 L1054.6,215.2 L1055.0,215.1 L1055.5,212.3 L1056.0,214.0 L1056.4,209.3 L1056.9,215.0 L1057.3,205.7 L1057.8,213.7 L1058.2,205.4 L1058.7,212.4 L1059.1,205.2 L1059.6,211.1 L1060.0,204.8 L1060.5,210.1 L1060.9,204.4 L1061.4,209.0 L1061.8,204.1 L1062.3,207.9 L1062.8,203.7 L1063.2,206.9 L1063.7,204.1 L1064.1,204.7 L1064.6,202.7 L1065.0,203.4 L1065.5,201.2 L1065.9,202.1 L1066.4,199.8 L1066.8,202.0 L1067.3,197.8 L1067.7,201.2 L1068.2,197.3 L1068.6,200.4 L1069.1,196.7 L1069.5,199.7 L1070.0,196.1 M831.8,208.6 L832.3,208.2 L832.7,207.8 L833.2,207.4 L833.6,207.0 L834.1,206.6 L834.5,206.2 L835.0,205.8 L835.4,205.3 L835.9,204.9 L836.3,204.5 L836.8,204.0 L837.2,203.2 L837.7,202.4 L838.1,201.6 L838.6,200.8 L839.0,200.0 L839.5,199.2 L839.9,198.4 L840.4,197.6 L840.8,196.8 L841.3,196.0 L841.7,195.2 L842.2,194.4 L842.6,193.9 L843.1,193.4 L843.5,192.9 L844.0,192.3 L844.4,191.8 L844.9,191.3 L845.3,190.8 L845.8,190.3 L846.3,189.7 L846.7,189.2 L847.2,188.7 L847.6,188.2 L848.1,187.8 L848.5,188.3 L849.0,188.8 L849.4,189.3 L849.9,189.8 L850.3,190.3 L850.8,190.7 L851.2,191.3 L851.7,191.6 L852.1,193.2 L852.6,190.9 L853.0,193.2 L853.5,190.8 L853.9,193.2 L854.4,190.7 L854.8,193.2 L855.3,190.6 L855.7,193.2 L856.2,190.5 L856.6,193.2 L857.1,190.4 L857.5,193.2 L858.0,190.2 L858.4,193.2 L858.9,190.0 L859.4,193.2 L859.8,189.8 L860.3,193.2 L860.7,189.6 L861.2,193.2 L861.6,189.6 L862.1,192.8 L862.5,189.4 L863.0,192.3 L863.4,189.1 L863.9,191.7 L864.3,188.8 L864.8,191.2 L865.2,188.5 L865.7,190.7 L866.1,188.3 L866.6,190.2 L867.0,187.9 L867.5,190.0 L867.9,187.6 L868.4,189.7 L868.8,187.4 L869.3,189.4 L869.7,187.1 L870.2,189.1 L870.6,186.8 L871.1,188.8 L871.5,186.6 L872.0,188.8 L872.4,186.6 L872.9,188.8 L873.4,186.6 L873.8,188.8 L874.3,186.6 L874.7,188.8 L875.2,186.6 L875.6,188.8 L876.1,186.6 L876.5,188.8 L877.0,186.5 L877.4,188.8 L877.9,186.3 L878.3,188.8 L878.8,186.2 L879.2,188.8 L879.7,186.1 L880.1,188.3 L880.6,187.3 L881.0,189.0 L881.5,188.1 L881.9,189.7 L882.4,189.0 L882.8,190.5 L883.3,189.4 L883.7,191.3 L884.2,190.0 L884.6,191.6 L885.1,190.6 L885.5,191.9 L886.0,191.2 M1213.5,226.8 L1214.0,228.8 L1214.4,226.1 L1214.9,228.0 L1215.3,225.5 L1215.8,227.2 L1216.2,224.8 L1216.7,226.5 L1217.1,224.2 L1217.6,225.7 L1218.0,223.5 L1218.5,224.9 L1218.9,222.8 L1219.4,224.1 L1219.8,222.2 L1220.3,223.3 L1220.7,221.5 L1221.2,222.5 L1221.6,220.9 L1222.1,221.1 L1222.5,220.4 L1223.0,219.8 L1223.4,219.1 L1223.9,218.5 L1224.3,217.7 L1224.8,217.4 L1225.2,216.3 L1225.7,216.3 L1226.1,214.8 L1226.6,215.2 L1227.0,213.3 L1227.5,214.0 L1227.9,211.9 L1228.4,212.9 L1228.9,210.4 L1229.3,211.8 L1229.8,208.9 L1230.2,210.7 L1230.7,207.1 L1231.1,209.9 L1231.6,206.1 L1232.0,208.8 L1232.5,205.1 L1232.9,207.7 L1233.4,204.1 L1233.8,206.6 L1234.3,203.1 L1234.7,205.5 L1235.2,202.1 L1235.6,204.4 L1236.1,201.1 L1236.5,203.2 L1237.0,200.1 L1237.4,202.1 L1237.9,199.1 L1238.3,201.0 L1238.8,198.1 L1239.2,198.6 L1239.7,197.7 L1240.1,196.9 L1240.6,196.1 L1241.0,195.2 L1241.5,194.4 L1241.9,193.6 L1242.4,192.8 L1242.8,191.9 L1243.3,191.1" fill="none" stroke="#65a558" stroke-width="3.9" stroke-linejoin="round" stroke-linecap="round"/>
<path d="M138.8,232.7 L139.2,232.4 L139.7,232.9 L140.2,231.0 L140.7,231.9 L141.2,230.7 L141.6,230.3 L142.1,231.5 L142.6,229.8 L143.1,229.2 L143.6,228.3 L144.1,226.3 L144.6,225.0 L145.1,223.3 L145.6,220.6 L146.1,218.5 L146.6,216.9 L147.1,213.8 L147.5,212.2 L148.0,210.1 L148.5,208.4 L149.0,206.2 L149.5,204.8 L150.0,203.4 L150.4,203.1 L150.9,201.9 L151.4,200.5 L151.9,199.5 L152.4,198.2 L152.9,196.7 L153.4,197.0 L153.9,196.7 L154.3,196.5 L154.8,194.8 L155.3,194.8 L155.8,194.3 L156.3,192.9 L156.8,193.7 L157.2,192.3 L157.7,192.6 L158.2,193.3 L158.7,193.6 L159.2,190.8 L159.6,192.4 L160.1,191.6 L160.6,190.7 L161.1,190.4 L161.6,191.6 L162.1,192.5 L162.5,193.8 L163.0,193.8 L163.5,194.8 L164.0,193.4 L164.5,192.4 L165.0,191.2 L165.5,190.8 L166.0,189.9 L166.5,190.9 L166.9,193.8 L167.4,193.4 L167.9,196.3 L168.4,194.3 L168.9,193.2 L169.4,191.2 L169.9,191.4 L170.4,192.5 L170.9,189.3 L171.3,190.6 L171.8,190.2 L172.3,191.6 L172.8,188.8 L173.3,190.8 L173.7,189.3 L174.2,189.5 L174.7,189.4 L175.2,188.9 L175.7,189.8 L176.2,188.5 L176.6,189.2 L177.1,189.5 L177.6,190.5 L178.1,187.5 L178.6,190.2 L179.1,189.8 L179.6,188.8 L180.0,189.3 L180.5,188.7 L181.0,190.2 L181.5,189.0 L182.0,189.4 L182.5,189.4 L183.0,189.9 L183.5,191.4 L184.0,193.1 L184.4,194.8 L184.9,195.9 L185.4,198.2 L185.9,202.3 L186.4,202.2 L186.9,203.7 L187.4,208.9 L187.9,211.2 L188.4,213.6 L188.8,216.4 L189.3,218.6 L189.8,221.1 L190.3,223.8 L190.8,226.9 L191.3,229.3 L191.8,232.4 L192.3,233.9 L192.8,236.3 L193.2,240.4 L193.7,241.8 L194.2,243.9 L194.7,242.2 L195.1,243.6 L195.6,241.5 L196.1,240.0 L196.6,238.9 L197.1,237.9 L197.6,238.2 L198.1,236.8 L198.5,235.9 L199.0,235.1 L199.5,235.0 L200.0,234.7 L200.5,236.7 L201.0,236.9 L201.5,237.4 L201.9,240.1 L202.4,241.0 L202.9,242.7 L203.4,243.4 L203.9,243.2 L204.4,241.2 L204.9,240.2 L205.3,239.2 L205.8,237.4 L206.3,237.6 L206.8,236.1 L207.3,235.1 L207.8,232.3 L208.3,230.1 L208.8,228.3 L209.3,228.3 L209.8,228.0 L210.3,228.2 L210.7,228.6 L211.2,228.4 L211.7,228.9 L212.2,229.3 L212.7,229.1 L213.2,231.3 L213.6,232.0 L214.1,232.0 L214.6,233.7 L215.1,230.8 L215.6,231.1 L216.1,230.6 L216.5,228.0 L217.0,226.9 L217.5,225.9 L218.0,225.3 L218.5,226.0 L219.0,224.7 L219.4,225.8 L219.9,224.7 L220.4,225.3 L220.9,224.5 L221.4,222.3 L221.9,219.9 L222.4,216.9 L222.9,215.7 L223.4,213.3 L223.9,211.6 L224.3,210.3 L224.8,207.9 L225.3,207.1 L225.8,205.5 L226.3,205.3 L226.7,204.7 L227.2,202.9 L227.7,201.8 L228.2,201.1 L228.7,198.9 L229.2,197.8 L229.7,195.6 L230.2,193.3 L230.7,192.1 L231.2,192.4 L231.6,191.2 L232.1,190.5 L232.6,190.4 L233.1,193.6 L233.6,195.6 L234.0,196.9 L234.5,199.7 L235.0,197.6 L235.5,195.8 L236.0,193.3 L236.5,195.1 L236.9,197.6 L237.4,200.4 L237.9,202.1 L238.4,199.0 L238.9,198.7 L239.4,197.1 L239.9,194.8 L240.4,197.5 L240.9,198.5 L241.3,201.9 L241.8,204.0 L242.3,202.2 L242.8,202.1 L243.3,200.9 L243.8,199.5 L244.3,198.2 L244.7,197.8 L245.1,198.0 L245.5,198.6 L246.0,203.2 L246.4,205.7 L246.9,210.3 L247.4,213.3 L247.9,215.9 L248.4,218.1 L248.9,215.7 L249.4,215.7 L249.8,211.7 L250.3,211.3 L250.8,207.4 L251.3,208.0 L251.8,210.0 L252.3,214.7 L252.8,216.1 L253.3,213.9 L253.8,210.5 L254.2,208.0 L254.7,205.4 L255.2,206.6 L255.7,210.2 L256.2,212.6 L256.7,216.1 L257.2,212.8 L257.6,210.5 L258.1,206.7 L258.6,203.5 L259.1,206.1 L259.6,207.5 L260.1,210.3 L260.6,206.4 L261.1,203.2 L261.5,199.3 L262.0,196.8 L262.5,192.3 L263.0,196.4 L263.5,203.0 L264.0,206.4 L264.5,203.6 L265.0,202.9 L265.4,199.4 L265.9,199.0 L266.4,195.7 L266.9,197.3 L267.4,198.9 L267.8,200.6 L268.3,201.1 L268.8,203.0 L269.3,199.2 L269.8,195.5 L270.3,194.7 L270.8,190.8 L271.3,192.0 L271.8,193.8 L272.2,196.0 L272.7,197.7 L273.2,196.5 L273.7,191.3 L274.2,189.9 L274.7,193.4 L275.2,196.2 L275.6,200.2 L276.1,201.8 L276.6,206.4 L277.1,203.6 L277.6,201.9 L278.0,199.9 L278.5,197.4 L279.0,193.8 L279.5,193.0 L280.0,193.3 L280.5,193.0 L281.0,192.8 L281.5,194.3 L281.9,196.6 L282.4,200.6 L282.9,202.5 L283.4,200.3 L283.9,197.5 L284.4,196.2 L284.9,192.0 L285.4,190.4 L285.9,191.1 L286.4,191.0 L286.8,191.2 L287.3,191.9 L287.8,191.8 L288.3,192.9 L288.8,194.0 L289.2,195.0 L289.7,197.3 L290.2,196.5 L290.7,197.7 L291.2,198.7 L291.7,198.7 L292.2,198.1 L292.6,199.3 L293.1,198.2 L293.6,200.1 L294.1,198.7 L294.6,199.6 L295.1,198.2 L295.6,197.9 L296.1,197.4 L296.5,196.5 L297.0,195.5 L297.5,193.8 L298.0,193.2 L298.5,192.2 L299.0,193.0 L299.4,192.3 L299.9,190.9 L300.4,192.0 L300.9,190.8 L301.4,191.9 L301.9,191.9 L302.4,193.9 L302.8,193.4 L303.3,194.7 L303.8,196.6 L304.3,197.2 L304.8,195.2 L305.3,195.8 L305.8,193.9 L306.2,194.9 L306.7,193.0 L307.2,192.8 L307.7,191.6 L308.2,189.0 L308.7,188.5 L309.2,188.0 L309.7,186.0 L310.2,185.8 L310.7,183.6 L311.2,185.0 L311.6,184.4 L312.1,183.0 L312.6,183.6 L313.1,182.1 L313.6,181.5 L314.1,182.4 L314.6,183.4 L315.0,183.7 L315.5,183.8 L316.0,183.1 L316.5,180.1 L316.9,177.3 L317.4,176.3 L317.9,176.1 L318.4,174.4 L318.9,174.9 L319.4,173.7 L319.9,174.9 L320.4,174.3 L320.9,173.3 L321.4,172.5 L321.9,170.9 L322.3,169.7 L322.8,168.5 L323.3,168.5 L323.8,169.2 L324.3,169.4 L324.8,169.8 L325.2,169.4 L325.7,171.3 L326.2,170.4 L326.7,170.4 L327.2,171.9 L327.7,172.3 L328.1,171.2 L328.6,171.2 L329.1,173.7 L329.6,173.3 L330.1,173.7 L330.6,174.7 L331.1,175.1 L331.5,176.0 L332.0,175.7 L332.5,177.2 L333.0,177.1 L333.5,176.9 L333.9,177.2 L334.4,175.6 L334.9,177.8 L335.4,177.2 L335.9,175.2 L336.4,171.5 L336.9,170.0 L337.4,168.3 L337.9,166.0 L338.4,166.4 L338.9,165.9 L339.4,166.8 L339.8,165.8 L340.3,165.0 L340.8,165.2 L341.3,165.6 L341.8,166.7 L342.3,166.4 L342.8,168.0 L343.2,168.7 L343.7,169.0 L344.2,169.9 L344.7,169.7 L345.2,170.4 L345.7,170.4 L346.2,170.0 L346.6,170.0 L347.1,169.3 L347.6,170.0 L348.1,170.4 L348.6,172.6 L349.0,175.3 L349.5,179.2 L350.0,180.1 L350.5,181.2 L351.0,181.4 L351.5,183.5 L352.0,184.0 L352.5,184.9 L353.0,185.0 L353.5,186.8 L353.9,188.4 L354.4,192.0 L354.9,193.8 L355.4,197.9 L355.9,201.5 L356.4,202.6 L356.9,203.0 L357.3,204.2 L357.8,203.7 L358.3,204.5 L358.8,207.9 L359.3,209.7 L359.8,213.2 L360.3,214.5 L360.7,218.8 L361.2,222.0 L361.6,222.0 L362.0,218.7 L362.5,219.6 L362.9,217.8 L363.4,216.8 L363.9,216.5 L364.4,216.4 L364.9,216.0 L365.3,214.7 L365.8,215.0 L366.3,214.7 L366.8,213.9 L367.3,213.7 L367.8,211.7 L368.2,212.5 L368.7,212.0 L369.2,211.5 L369.7,209.0 L370.2,207.1 L370.7,207.2 L371.1,204.8 L371.6,205.4 L372.1,204.7 L372.6,203.2 L373.1,201.2 L373.6,199.8 L374.1,200.5 L374.5,199.9 L375.0,197.6 L375.5,197.1 L376.0,196.4 L376.5,193.7 L377.0,195.0 L377.5,195.3 L378.0,194.9 L378.5,194.4 L379.0,197.4 L379.5,196.5 L379.9,197.1 L380.4,201.0 L380.9,202.2 L381.4,199.8 L381.9,198.8 L382.3,197.3 L382.8,195.4 L383.3,193.0 L383.8,195.0 L384.3,195.6 L384.8,193.5 L385.3,195.7 L385.8,196.4 L386.3,199.1 L386.8,197.8 L387.2,199.9 L387.7,199.9 L388.2,200.8 L388.7,199.4 L389.2,200.1 L389.6,198.5 L390.1,196.3 L390.6,196.3 L391.1,194.4 L391.6,193.5 L392.1,194.2 L392.6,196.0 L393.1,195.4 L393.6,200.8 L394.0,206.1 L394.5,206.5 L395.0,209.2 L395.5,210.4 L396.0,212.4 L396.5,212.9 L397.0,218.8 L397.5,221.0 L398.0,221.7 L398.5,223.1 L399.0,224.9 L399.5,226.5 L400.0,228.0 L400.4,230.9 L400.9,231.6 L401.3,232.9 L401.8,233.0 L402.2,232.6 L402.6,232.4 L403.1,233.4 L403.5,233.0 L403.9,236.1 L404.2,239.6 L404.6,242.2 L404.9,243.3 L405.3,246.9 L405.8,249.0 L406.3,252.8 L406.8,254.2 L407.2,253.0 L407.7,252.3 L408.1,252.8 L408.6,253.6 L409.0,252.0 L409.5,252.0 L409.9,249.8 L410.4,249.1 L410.9,247.3 L411.4,246.1 L411.9,244.7 L412.4,242.3 L412.8,241.3 L413.3,239.6 L413.8,238.1 L414.2,236.0 L414.7,235.4 L415.2,234.5 L415.6,233.8 L416.1,232.8 L416.6,232.1 L417.0,232.3 L417.5,231.7 L417.9,231.1 L418.4,228.3 L418.8,227.0 L419.3,226.0 L419.8,226.3 L420.3,225.7 L420.8,225.3 L421.2,226.8 L421.7,225.0 L422.2,225.2 L422.7,225.2 L423.2,225.6 L423.7,224.0 L424.2,223.5 L424.6,223.1 L425.1,222.7 L425.6,221.1 L426.1,219.7 L426.6,219.5 L427.1,218.3 L427.6,218.9 L428.1,218.1 L428.5,218.4 L429.0,219.0 L429.5,218.2 L430.0,217.8 L430.5,217.0 L431.0,215.9 L431.5,215.8 L431.9,221.1 L432.3,226.5 L432.8,228.5 L433.2,229.7 L433.7,232.3 L434.1,232.1 L434.6,233.2 L435.0,231.6 L435.5,232.5 L435.9,233.0 L436.4,234.4 L436.9,238.5 L437.4,239.6 L437.8,242.5 L438.1,244.8 L438.5,246.9 L438.9,249.0 L439.4,250.8 L439.9,252.6 L440.3,254.2 L440.8,255.5 L441.3,259.2 L441.8,261.5 L442.2,262.6 L442.6,261.9 L443.1,264.2 L443.5,264.8 L443.9,265.1 L444.3,264.8 L444.7,266.2 L445.1,267.1 L445.5,268.0 L446.0,268.3 L446.5,269.6 L446.9,269.1 L447.4,270.5 L447.9,271.5 L448.4,272.0 L504.4,340.2 L504.8,343.8 L505.3,346.5 L505.7,349.4 L506.2,353.1 L506.6,354.4 L507.1,359.5 L507.5,362.0 L507.9,362.7 L508.4,362.9 L508.8,364.4 L509.3,364.3 L509.7,365.0 L510.2,367.1 L510.6,368.2 L511.0,369.7 L511.5,372.8 L511.9,373.8 L512.4,375.5 L512.8,377.8 L513.3,381.7 L513.7,382.6 L514.1,383.5 L514.6,383.9 L515.0,384.6 L515.5,385.4 L515.9,386.9 L516.4,388.2 L516.8,388.8 L517.2,391.7 L517.7,393.7 L518.1,395.2 L518.6,396.6 L519.0,398.6 L519.5,399.6 L519.9,403.3 L520.3,401.1 L520.8,400.7 L521.2,398.6 L521.7,397.7 L522.1,395.0 L522.6,395.1 L523.0,393.0 L523.5,390.9 L524.0,388.5 L524.5,386.4 L525.0,382.3 L525.5,381.6 L526.0,379.0 L526.4,376.5 L526.9,376.2 L527.4,372.6 L527.9,370.2 L528.3,368.9 L528.8,366.1 L529.3,362.0 L529.8,360.5 L530.3,355.6 L530.8,352.8 L531.3,349.5 L531.7,347.4 L532.2,347.1 L532.6,343.6 L533.1,344.1 L533.5,341.6 L534.0,340.7 L534.4,339.2 L534.8,336.6 L535.3,335.8 L535.7,334.0 L536.2,332.5 L536.6,330.6 L537.1,329.0 L537.5,326.8 L538.0,324.4 L538.5,320.3 L539.0,316.7 L539.5,314.4 L540.0,311.4 L540.4,310.7 L540.9,307.9 L541.3,306.9 L541.8,304.1 L542.2,302.0 L542.7,303.4 L543.2,306.8 L543.7,309.5 L544.2,310.1 L544.7,312.3 L545.1,312.8 L545.6,314.1 L546.0,316.5 L546.5,316.6 L546.9,317.9 L547.4,319.9 L547.8,320.6 L548.2,322.7 L548.6,324.8 L549.1,326.5 L549.5,328.5 L549.9,331.0 L550.3,332.8 L550.7,334.4 L551.2,336.3 L551.6,337.2 L552.0,339.2 L552.5,340.0 L553.0,340.6 L553.5,340.8 L554.0,341.3 L554.4,344.2 L554.8,347.0 L555.3,348.9 L555.7,351.3 L556.1,353.7 L556.5,353.9 L557.0,355.7 L557.5,356.3 L557.9,357.2 L558.4,358.0 L558.8,358.6 L559.2,360.6 L559.7,362.9 L560.1,362.4 L560.6,363.2 L561.0,364.4 L561.5,365.1 L561.9,361.6 L562.4,359.0 L562.8,355.4 L563.2,352.3 L563.7,349.8 L564.1,346.6 L564.5,346.2 L565.0,345.4 L565.4,344.3 L565.8,344.5 L566.3,342.9 L566.7,343.1 L567.2,341.0 L567.6,337.6 L568.0,335.2 L568.5,333.1 L569.0,330.2 L569.4,327.2 L569.8,323.6 L570.3,321.7 L570.7,319.5 L571.1,315.8 L571.6,312.3 L572.0,311.3 L572.5,309.7 L572.9,308.2 L573.4,307.0 L573.8,305.2 L574.2,303.7 L574.7,302.2 L575.1,301.5 L575.6,299.0 L576.0,297.6 L576.5,295.8 L576.9,293.4 L577.3,292.7 L577.8,290.0 L578.2,288.4 L578.6,287.2 L579.1,283.4 L579.5,283.3 L579.9,281.3 L580.4,279.3 L580.8,277.9 L581.2,277.3 L581.7,275.2 L582.1,273.4 L582.6,271.7 L583.0,271.9 L583.5,269.1 L583.9,271.1 L584.4,272.5 L584.8,273.0 L585.2,275.9 L585.7,276.8 L586.1,277.9 L586.6,278.5 L587.1,279.3 L587.6,279.0 L588.1,281.3 L588.6,280.9 L589.1,282.9 L589.6,283.1 L590.0,285.1 L590.5,287.4 L591.0,290.4 L591.4,292.6 L591.8,294.1 L592.3,297.2 L592.7,298.0 L593.2,299.4 L593.6,299.7 L594.0,299.8 L594.5,301.4 L594.9,302.5 L595.4,304.2 L595.8,306.8 L596.2,309.6 L596.7,311.9 L597.1,314.1 L597.6,316.6 L598.1,318.0 L598.6,321.9 L599.1,324.0 L599.6,326.4 L600.1,329.4 L600.6,333.1 L601.1,334.3 L601.6,331.9 L602.1,330.2 L602.6,330.3 L603.1,327.7 L603.6,327.6 L604.1,324.5 L604.6,323.7 L605.1,321.8 L605.6,321.3 L606.1,319.8 L606.6,318.0 L607.1,316.4 L607.6,314.5 L608.1,313.1 L608.6,311.3 L609.1,310.0 L609.6,309.6 L610.1,307.7 L610.6,305.8 L611.1,304.5 L611.6,303.4 L612.1,302.2 L612.6,299.9 L613.1,301.6 L613.6,303.4 L614.1,305.4 L614.6,308.7 L615.1,308.9 L615.6,311.3 L616.1,312.2 L616.6,309.5 L617.1,309.5 L617.6,306.3 L618.1,304.9 L618.6,303.6 L619.1,302.3 L619.6,300.8 L620.0,299.7 L620.5,298.7 L620.9,297.4 L621.3,295.8 L621.8,296.7 L622.2,293.7 L622.7,291.3 L623.1,288.9 L623.5,287.2 L624.0,283.8 L624.5,280.9 L624.9,277.9 L625.3,277.8 L625.8,278.6 L626.2,276.2 L626.6,276.0 L627.1,276.5 L627.5,276.1 L628.0,274.5 L628.4,275.3 L628.9,276.4 L629.3,275.2 L629.8,275.5 L630.2,275.2 L630.6,277.1 L631.1,277.3 L631.5,279.8 L631.9,280.6 L632.4,281.8 L632.8,284.0 L633.3,282.9 L633.8,282.2 L634.3,281.1 L634.8,280.1 L635.3,280.3 L635.8,279.6 L636.3,277.9 L636.8,277.0 L637.2,275.2 L637.6,273.2 L638.1,272.6 L638.6,271.3 L639.1,270.3 L639.6,270.5 L640.1,270.2 L640.6,269.4 L641.1,268.0 L641.6,267.3 L642.1,266.8 L642.5,267.0 L643.0,266.7 L643.4,266.8 L643.9,267.2 L644.3,265.5 L644.8,267.2 L645.2,265.5 L645.6,262.6 L646.1,261.3 L646.5,260.1 L646.9,258.9 L647.4,258.0 L647.8,256.7 L648.2,256.4 L648.7,252.7 L649.1,252.2 L649.5,249.4 L650.0,248.0 L650.4,246.1 L650.9,243.9 L651.3,244.6 L651.8,241.5 L652.3,239.6 L652.7,240.1 L653.2,237.0 L653.7,235.5 L654.2,234.0 L654.7,232.0 L655.1,229.9 L655.6,227.8 L656.1,227.2 L656.6,226.4 L657.1,226.9 L657.6,225.3 L658.1,224.3 L658.6,223.7 L659.1,224.1 L659.5,222.2 L660.0,223.6 L660.5,221.9 L661.0,221.4 L661.5,219.7 L662.0,220.1 L662.4,218.9 L662.9,217.5 L663.4,215.5 L663.9,214.3 L664.4,213.3 L664.9,210.7 L665.4,210.7 L665.8,207.5 L666.3,204.7 L666.8,205.8 L667.3,204.4 L667.8,199.1 L668.3,196.1 L668.8,198.1 L669.3,201.2 L669.7,202.7 L670.2,206.4 L670.7,207.8 L671.2,203.3 L671.7,200.8 L672.2,196.5 L672.7,194.2 L673.2,199.0 L673.7,200.8 L674.1,205.4 L674.6,207.8 L675.1,206.8 L675.6,202.3 L676.1,201.0 L676.6,199.0 L677.1,202.2 L677.6,204.1 L678.0,206.5 L678.5,209.9 L679.0,211.7 L679.5,209.4 L680.0,204.9 L680.4,202.2 L680.9,199.8 L681.4,196.1 L681.9,198.2 L682.4,200.1 L682.8,200.9 L683.3,205.4 L683.8,205.8 L684.3,203.1 L684.8,201.0 L685.3,198.2 L685.8,195.8 L686.3,193.2 L686.8,199.2 L687.2,204.1 L687.7,210.7 L688.2,208.7 L688.7,207.1 L689.2,204.0 L689.7,202.0 L690.2,199.0 L690.7,202.4 L691.2,204.9 L691.6,209.4 L692.1,210.7 L692.6,208.1 L693.1,207.1 L693.5,205.8 L694.0,203.2 L694.5,200.0 L695.0,199.0 L695.5,203.6 L696.0,211.5 L696.5,215.6 L697.0,226.3 L697.5,223.5 L698.0,222.4 L698.4,220.9 L698.9,218.5 L699.4,216.5 L699.9,218.3 L700.3,221.7 L700.8,226.7 L701.3,230.2 L701.8,227.4 L702.3,225.7 L702.8,223.9 L703.3,221.8 L703.8,219.5 L704.3,219.6 L704.8,220.6 L705.2,224.2 L705.7,224.1 L706.2,224.9 L706.7,227.2 L707.1,222.1 L707.5,221.0 L707.9,217.2 L708.4,218.7 L708.9,221.5 L709.4,225.0 L709.9,224.2 L710.4,222.6 L710.8,221.4 L711.3,218.4 L711.8,218.2 L712.3,212.0 L712.8,209.7 L713.3,206.3 L713.8,202.7 L714.3,204.8 L714.8,208.7 L715.2,210.9 L715.7,213.3 L716.2,211.5 L716.7,211.8 L717.2,210.3 L717.6,209.0 L718.1,209.4 L718.6,207.5 L719.1,206.7 L719.6,209.3 L720.1,209.9 L720.6,209.5 L721.1,205.7 L721.6,205.1 L722.0,203.0 L722.5,200.1 L723.0,198.5 L723.5,196.8 L724.0,197.1 L724.5,198.8 L724.9,199.3 L725.4,199.0 L725.9,201.7 L726.4,199.7 L726.9,195.8 L727.4,200.2 L727.8,202.4 L728.3,207.4 L728.8,210.4 L729.3,209.5 L729.8,204.1 L730.3,202.5 L730.8,199.9 L731.3,197.8 L731.8,197.6 L732.3,196.3 L732.8,194.7 L733.2,196.2 L733.7,194.3 L734.2,193.9 L734.7,199.8 L735.1,204.6 L735.6,204.5 L736.1,200.1 L736.6,198.4 L737.1,197.5 L737.6,194.8 L738.1,192.9 L738.6,193.7 L739.1,193.6 L739.6,196.2 L740.0,194.9 L740.5,195.0 L741.0,195.2 L741.5,195.7 L742.0,195.8 L742.5,194.9 L743.0,196.4 L743.4,197.6 L743.9,196.4 L744.4,197.8 L744.9,198.1 L745.4,198.1 L745.8,200.9 L746.3,199.9 L746.8,199.7 L747.3,199.5 L747.8,198.1 L748.2,198.3 L748.7,197.5 L749.2,197.2 L749.7,196.8 L750.2,196.0 L750.7,196.9 L751.2,195.0 L751.7,194.3 L752.2,193.1 L752.7,191.0 L753.2,194.1 L753.7,192.1 L754.2,192.5 L754.6,194.5 L755.1,195.4 L755.6,196.0 L756.1,196.8 L756.6,195.7 L757.1,196.1 L757.5,196.2 L758.0,194.4 L758.5,193.4 L759.0,192.9 L759.5,192.7 L760.0,190.4 L760.5,189.2 L760.9,188.6 L761.4,185.4 L761.9,186.1 L762.4,187.1 L762.9,185.0 L763.4,184.9 L763.9,184.2 L764.3,183.8 L764.8,181.8 L765.3,183.8 L765.8,182.3 L766.3,181.3 L766.8,180.7 L767.3,182.2 L767.8,177.8 L768.2,178.6 L768.7,177.1 L769.2,176.4 L769.7,174.8 L770.2,177.2 L770.7,174.1 L771.2,175.1 L771.6,174.5 L772.1,174.4 L772.6,173.1 L773.1,173.5 L773.6,173.8 L774.1,172.1 L774.5,170.0 L775.0,169.3 L775.5,169.6 L776.0,168.6 L776.5,168.0 L777.0,169.6 L777.5,169.9 L777.9,169.5 L778.4,168.7 L778.9,170.6 L779.4,169.9 L779.9,171.5 L780.3,171.1 L780.8,173.4 L781.3,171.8 L781.8,172.5 L782.3,173.5 L782.8,174.3 L783.2,174.5 L783.7,175.4 L784.2,176.6 L784.7,176.4 L785.2,176.3 L785.7,176.7 L786.2,176.1 L786.6,178.0 L787.1,176.5 L787.6,177.1 L788.1,176.4 L788.6,171.9 L789.1,171.7 L789.6,169.1 L790.1,167.9 L790.6,165.7 L791.1,165.5 L791.6,165.1 L792.1,165.9 L792.5,166.9 L793.0,167.2 L793.5,166.0 L794.0,167.4 L794.5,166.7 L795.0,166.4 L795.5,167.7 L796.0,166.7 L796.5,168.5 L796.9,169.8 L797.4,167.9 L797.9,169.3 L798.4,168.6 L798.9,167.8 L799.4,168.9 L799.8,171.9 L800.3,170.2 L800.8,170.6 L801.3,174.2 L801.7,175.9 L802.2,180.3 L802.7,181.1 L803.2,181.4 L803.7,183.5 L804.2,183.1 L804.7,186.1 L805.2,185.1 L805.7,186.5 L806.2,189.7 L806.6,190.3 L807.1,193.9 L807.6,197.5 L808.1,201.7 L808.6,203.4 L809.1,203.3 L809.6,203.3 L810.1,205.3 L810.6,205.8 L811.1,208.7 L811.6,210.5 L812.1,212.4 L812.6,216.3 L813.0,217.7 L813.5,221.9 L814.0,222.4 L814.5,220.9 L815.0,218.2 L815.5,220.3 L816.0,217.9 L816.5,217.5 L817.0,217.2 L817.4,214.8 L817.9,215.1 L818.3,213.7 L818.8,214.9 L819.2,213.5 L819.6,212.4 L820.1,212.4 L820.6,211.5 L821.0,211.9 L821.5,209.9 L821.9,210.3 L822.4,208.4 L822.8,207.4 L823.2,207.6 L823.7,207.3 L824.2,206.4 L824.7,206.0 L825.2,205.8 L825.7,204.1 L826.2,203.3 L826.7,202.9 L827.0,200.2 L827.4,199.8 L827.9,198.5 L828.3,197.2 L828.8,196.4 L829.2,195.2 L829.7,193.4 L830.2,194.7 L830.7,193.8 L831.2,194.7 L831.6,195.6 L832.1,193.5 L832.6,195.5 L833.1,194.3 L833.6,194.7 L834.1,201.8 L834.5,199.9 L835.0,197.9 L835.4,197.1 L835.9,194.2 L836.3,193.0 L836.8,192.4 L837.2,195.3 L837.7,196.0 L838.2,197.6 L838.7,198.6 L839.1,198.2 L839.6,200.2 L840.1,199.6 L840.5,198.8 L841.0,197.9 L841.5,197.2 L842.0,196.6 L842.5,195.2 L842.9,194.7 L843.4,194.1 L843.8,197.2 L844.3,197.9 L844.7,200.9 L845.2,202.6 L845.6,205.6 L846.0,206.2 L846.5,207.9 L846.9,209.7 L847.4,211.9 L847.8,212.2 L848.2,213.6 L848.7,215.9 L849.1,217.1 L849.6,218.3 L850.0,219.8 L850.4,219.4 L850.9,223.4 L851.3,225.1 L851.8,226.1 L852.2,228.6 L852.6,229.6 L853.1,231.4 L853.5,230.4 L854.0,231.8 L854.4,233.0 L854.8,235.2 L855.3,234.8 L855.7,236.8 L856.2,239.3 L856.6,240.6 L857.0,243.7 L857.5,246.3 L857.9,248.4 L858.4,251.9 L858.8,252.7 L859.3,252.3 L859.7,250.5 L860.2,250.7 L860.6,250.6 L861.1,249.8 L861.5,247.6 L862.0,248.3 L862.4,247.0 L862.9,244.7 L863.3,243.5 L863.8,243.2 L864.2,240.6 L864.7,239.4 L865.1,238.0 L865.6,237.3 L866.1,235.8 L866.6,236.6 L867.0,234.7 L867.5,233.0 L868.0,232.7 L868.4,230.6 L868.9,229.7 L869.4,229.4 L869.9,226.8 L870.3,228.1 L870.8,226.4 L871.3,225.2 L871.7,225.8 L872.2,225.7 L872.7,224.6 L873.2,225.1 L873.6,225.0 L874.1,224.2 L874.6,225.1 L875.0,223.5 L875.5,224.1 L875.9,222.6 L876.4,221.7 L876.8,222.0 L877.3,220.9 L877.8,220.0 L878.3,220.0 L878.8,219.9 L879.3,219.7 L879.8,218.6 L880.3,216.9 L880.8,218.4 L881.3,217.1 L881.8,216.3 L882.3,216.0 L882.8,217.2 L883.2,219.9 L883.6,221.4 L884.1,223.4 L884.5,224.6 L885.0,226.4 L885.4,229.0 L885.9,229.3 L886.3,231.3 L886.8,232.7 L887.2,234.1 L887.6,236.1 L888.1,236.2 L888.5,237.8 L889.0,239.1 L889.4,240.6 L889.8,242.1 L890.3,244.1 L890.7,245.7 L891.2,249.0 L891.6,250.5 L892.0,252.8 L892.5,252.4 L892.9,254.9 L893.4,254.9 L893.8,257.0 L894.2,258.6 L894.5,261.2 L894.9,263.6 L895.4,264.7 L895.9,265.9 L896.4,265.2 L896.8,266.6 L897.3,268.5 L897.8,269.3 L898.3,271.9 L898.8,271.4 L956.1,341.4 L956.6,344.1 L957.0,346.8 L957.5,351.0 L958.0,353.1 L958.5,353.2 L959.0,355.7 L959.5,360.8 L960.0,360.4 L960.5,362.8 L961.0,364.7 L961.5,366.2 L962.0,367.3 L962.5,369.4 L962.9,370.2 L963.4,373.5 L963.9,374.4 L964.4,376.9 L964.9,378.8 L965.3,379.6 L965.8,380.8 L966.3,383.8 L966.8,386.1 L967.3,386.6 L967.8,389.0 L968.2,388.9 L968.7,390.7 L969.2,392.7 L969.7,393.9 L970.2,396.3 L970.7,398.2 L971.1,399.4 L971.6,402.0 L972.1,404.6 L972.6,404.5 L973.1,402.2 L973.6,399.4 L974.1,399.8 L974.6,396.9 L975.1,395.4 L975.6,393.9 L976.1,391.1 L976.6,390.4 L977.0,387.2 L977.5,384.8 L978.0,381.9 L978.5,380.3 L979.0,376.8 L979.5,375.2 L980.0,372.5 L980.4,371.0 L980.9,366.7 L981.4,364.7 L981.9,361.9 L982.4,360.2 L982.8,357.5 L983.3,353.9 L983.8,352.8 L984.3,349.2 L984.8,347.3 L985.3,345.3 L985.8,342.6 L986.2,340.8 L986.7,337.6 L987.2,335.6 L987.7,333.5 L988.2,332.5 L988.7,330.0 L989.1,328.0 L989.6,326.6 L990.1,323.9 L990.6,321.1 L991.1,318.3 L991.6,313.6 L992.1,312.2 L992.6,309.4 L993.0,307.9 L993.5,304.3 L994.0,302.5 L994.5,303.9 L995.0,305.9 L995.5,307.2 L995.9,309.6 L996.4,310.9 L996.9,312.2 L997.4,313.5 L997.9,315.9 L998.4,316.3 L998.8,317.6 L999.3,319.7 L999.8,321.4 L1000.3,322.3 L1000.8,323.9 L1001.3,326.1 L1001.8,329.4 L1002.3,332.8 L1002.8,335.6 L1003.3,337.0 L1003.8,338.8 L1004.3,338.4 L1004.8,339.3 L1005.2,338.9 L1005.7,342.3 L1006.2,343.0 L1006.7,343.3 L1007.2,345.6 L1007.7,347.4 L1008.2,348.3 L1008.6,352.9 L1009.1,354.2 L1009.6,357.0 L1010.1,359.0 L1010.6,359.5 L1011.1,360.8 L1011.5,360.7 L1012.0,362.6 L1012.5,361.8 L1013.0,364.8 L1013.5,364.7 L1014.0,361.8 L1014.5,358.0 L1015.0,355.7 L1015.4,352.4 L1015.9,350.3 L1016.4,347.2 L1016.9,345.4 L1017.4,343.7 L1017.8,343.0 L1018.3,341.8 L1018.8,340.8 L1019.3,339.4 L1019.8,336.4 L1020.3,333.3 L1020.8,328.9 L1021.3,326.6 L1021.8,324.9 L1022.3,319.4 L1022.8,318.5 L1023.3,316.6 L1023.8,313.4 L1024.3,311.2 L1024.8,310.7 L1025.2,309.6 L1025.7,307.1 L1026.2,306.5 L1026.7,305.6 L1027.2,304.1 L1027.7,301.5 L1028.2,300.8 L1028.6,299.4 L1029.1,295.8 L1029.6,293.9 L1030.1,291.1 L1030.6,290.0 L1031.0,287.7 L1031.5,285.1 L1032.0,283.9 L1032.5,282.2 L1033.0,279.6 L1033.5,277.4 L1034.0,276.0 L1034.4,273.9 L1034.9,271.2 L1035.4,268.6 L1035.9,269.6 L1036.4,271.5 L1036.8,272.5 L1037.3,274.0 L1037.8,274.4 L1038.3,276.4 L1038.8,275.2 L1039.3,278.9 L1039.8,278.9 L1040.3,279.9 L1040.8,281.2 L1041.3,282.2 L1041.8,284.1 L1042.3,285.9 L1042.8,289.1 L1043.2,290.1 L1043.7,292.1 L1044.2,293.9 L1044.7,294.9 L1045.2,297.1 L1045.7,299.1 L1046.1,300.3 L1046.6,302.2 L1047.1,303.6 L1047.6,304.9 L1048.1,307.8 L1048.5,308.7 L1049.0,311.1 L1049.5,312.8 L1050.0,315.3 L1050.5,318.2 L1051.0,321.6 L1051.5,323.8 L1052.0,325.8 L1052.5,329.2 L1053.0,332.6 L1053.5,334.7 L1054.0,333.5 L1054.4,331.7 L1054.9,328.9 L1055.4,327.7 L1055.9,325.9 L1056.3,324.4 L1056.8,323.1 L1057.3,321.6 L1057.8,319.7 L1058.3,317.8 L1058.8,316.7 L1059.2,314.1 L1059.7,312.7 L1060.2,311.3 L1060.7,309.5 L1061.2,307.5 L1061.7,306.8 L1062.2,305.3 L1062.7,304.5 L1063.2,304.1 L1063.6,303.0 L1064.1,302.2 L1064.6,301.2 L1065.1,299.1 L1065.6,298.8 L1066.1,302.4 L1066.6,304.3 L1067.0,304.7 L1067.5,307.4 L1068.0,309.8 L1068.5,312.4 L1069.0,310.7 L1069.5,309.2 L1070.0,306.9 L1070.5,303.3 L1070.9,305.3 L1071.4,302.0 L1071.9,300.2 L1072.4,297.8 L1072.9,295.3 L1073.4,294.0 L1073.8,292.6 L1074.3,289.7 L1074.8,288.8 L1075.3,286.2 L1075.8,285.2 L1076.2,282.2 L1076.7,281.3 L1077.2,278.3 L1077.7,277.0 L1078.2,278.9 L1078.7,278.0 L1079.2,277.3 L1079.7,278.1 L1080.1,277.0 L1080.6,277.5 L1081.1,277.4 L1081.6,277.3 L1082.1,276.4 L1082.6,279.2 L1083.1,280.0 L1083.5,282.0 L1084.0,282.1 L1084.5,283.0 L1085.0,284.2 L1085.5,283.1 L1086.0,281.5 L1086.5,279.3 L1087.0,278.9 L1087.5,276.6 L1087.9,275.8 L1088.4,274.5 L1088.9,272.9 L1089.4,271.2 L1089.9,270.6 L1090.4,270.1 L1090.9,269.4 L1091.3,269.8 L1091.8,268.7 L1092.3,268.3 L1092.8,266.7 L1093.3,266.3 L1093.7,265.0 L1094.2,264.7 L1094.7,264.7 L1095.2,264.2 L1095.7,262.6 L1096.2,261.7 L1096.7,260.5 L1097.1,261.0 L1097.6,258.9 L1098.1,258.8 L1098.6,257.0 L1099.0,254.8 L1099.4,253.4 L1099.9,249.9 L1100.3,248.5 L1100.8,246.2 L1101.2,246.6 L1101.7,244.3 L1102.1,243.4 L1102.6,242.4 L1103.0,241.0 L1103.5,239.4 L1103.9,237.0 L1104.4,236.5 L1104.9,234.3 L1105.3,233.1 L1105.8,231.8 L1106.3,230.0 L1106.8,228.2 L1107.2,225.7 L1107.7,224.5 L1108.2,224.1 L1108.6,224.4 L1109.1,222.7 L1109.6,222.5 L1110.1,223.3 L1110.5,223.5 L1111.0,222.1 L1111.5,221.3 L1111.9,220.0 L1112.4,220.5 L1112.9,218.9 L1113.4,216.8 L1113.9,216.1 L1114.4,215.1 L1114.9,213.4 L1115.4,212.7 L1115.9,209.1 L1116.4,208.5 L1116.9,205.6 L1117.3,206.3 L1117.8,204.2 L1118.3,200.7 L1118.8,200.0 L1119.2,197.2 L1119.7,196.4 L1120.2,198.4 L1120.7,200.7 L1121.2,203.3 L1121.7,204.4 L1122.2,202.0 L1122.6,200.2 L1123.1,200.3 L1123.5,197.9 L1124.0,197.9 L1124.4,195.1 L1124.9,197.4 L1125.4,201.2 L1125.9,202.7 L1126.4,208.5 L1126.9,208.0 L1127.3,206.6 L1127.8,204.3 L1128.3,202.1 L1128.8,199.1 L1129.2,198.1 L1129.7,197.8 L1130.2,200.7 L1130.7,206.2 L1131.2,208.6 L1131.7,211.1 L1132.2,208.5 L1132.7,207.3 L1133.2,205.3 L1133.6,203.2 L1134.1,199.8 L1134.6,198.1 L1135.1,196.4 L1135.6,196.9 L1136.0,196.3 L1136.5,195.0 L1137.0,197.1 L1137.5,194.8 L1137.9,193.8 L1138.4,193.8 L1138.9,198.6 L1139.4,202.5 L1139.9,205.7 L1140.4,209.8 L1140.9,209.6 L1141.3,207.2 L1141.8,204.5 L1142.2,203.3 L1142.6,201.5 L1143.1,199.1 L1143.5,198.9 L1144.0,199.8 L1144.4,198.6 L1144.9,198.9 L1145.3,199.7 L1145.8,199.1 L1146.3,201.0 L1146.8,204.8 L1147.3,207.2 L1147.8,211.1 L1148.2,216.6 L1148.7,220.4 L1149.1,225.8 L1149.6,226.1 L1150.1,224.5 L1150.6,221.2 L1151.0,220.6 L1151.5,218.8 L1152.0,217.8 L1152.5,216.5 L1152.9,221.5 L1153.4,226.7 L1153.8,229.8 L1154.3,230.2 L1154.7,228.4 L1155.2,224.1 L1155.7,223.3 L1156.2,222.0 L1156.6,220.4 L1157.1,219.1 L1157.6,220.2 L1158.1,221.6 L1158.6,221.6 L1159.0,222.4 L1159.5,226.0 L1160.0,225.5 L1160.5,225.8 L1161.0,226.6 L1161.4,223.0 L1161.9,223.6 L1162.4,222.7 L1162.9,221.3 L1163.3,218.3 L1163.8,217.8 L1164.2,215.8 L1164.7,212.2 L1165.2,209.5 L1165.6,208.0 L1166.0,206.0 L1166.5,203.1 L1167.0,203.7 L1167.4,204.6 L1167.9,206.0 L1168.4,205.6 L1168.9,207.3 L1169.3,208.4 L1169.8,208.5 L1170.3,208.3 L1170.8,207.3 L1171.3,205.1 L1171.8,204.9 L1172.3,203.9 L1172.8,204.1 L1173.3,201.1 L1173.8,201.8 L1174.3,201.2 L1174.7,198.9 L1175.2,200.2 L1175.6,198.4 L1176.1,198.1 L1176.5,198.2 L1177.0,198.1 L1177.4,195.0 L1177.9,195.1 L1178.4,197.1 L1178.8,197.2 L1179.3,200.7 L1179.8,202.2 L1180.3,205.3 L1180.7,206.5 L1181.2,208.5 L1181.7,206.6 L1182.1,203.5 L1182.6,202.2 L1183.0,199.4 L1183.5,198.4 L1183.9,196.4 L1184.4,196.1 L1184.8,198.9 L1185.3,200.8 L1185.8,203.3 L1186.3,203.5 L1186.7,204.4 L1187.2,204.4 L1187.7,203.4 L1188.1,202.3 L1188.6,199.1 L1189.0,197.7 L1189.5,193.9 L1189.9,193.8 L1190.4,193.7 L1190.9,195.5 L1191.4,193.3 L1191.9,195.4 L1192.4,195.4 L1192.9,195.4 L1193.4,196.4 L1193.9,196.4 L1194.4,196.8 L1194.9,196.1 L1195.4,197.4 L1195.9,196.1 L1196.4,199.4 L1196.9,198.4 L1197.4,199.6 L1197.9,199.1 L1198.4,197.9 L1198.9,199.9 L1199.4,198.8 L1199.9,197.8 L1200.4,197.2 L1200.9,197.0 L1201.4,195.6 L1201.9,195.8 L1202.3,195.1 L1202.8,194.4 L1203.2,194.3 L1203.7,194.7 L1204.1,193.7 L1204.6,192.3 L1205.0,191.4 L1205.5,192.6 L1205.9,192.4 L1206.3,192.8 L1206.8,192.4 L1207.2,193.3 L1207.7,194.0 L1208.1,195.6 L1208.6,196.3 L1209.1,195.5 L1209.5,195.5 L1210.0,195.5 L1210.4,194.5 L1210.9,193.1 L1211.4,192.2 L1211.8,191.8 L1212.3,191.4 L1212.8,190.8 L1213.3,188.2 L1213.7,186.5 L1214.2,186.4 L1214.7,185.4 L1215.2,186.0 L1215.7,185.8 L1216.2,184.8 L1216.7,182.2 L1217.2,183.4 L1217.6,183.8 L1218.1,183.8 L1218.6,184.1 L1219.1,181.2 L1219.6,181.7 L1220.1,181.2 L1220.6,178.7 L1221.1,179.1 L1221.6,178.2 L1222.1,178.4 L1222.6,176.9 L1223.1,176.2 L1223.6,173.7 L1224.0,174.4 L1224.5,174.0 L1225.0,174.2 L1225.5,171.4 L1225.9,170.5 L1226.4,169.9 L1226.9,169.6 L1227.4,170.8 L1227.9,169.8 L1228.3,170.4 L1228.8,171.0 L1229.3,170.1 L1229.8,172.0 L1230.3,169.8 L1230.7,173.2 L1231.2,171.2 L1231.7,172.0 L1232.2,171.6 L1232.6,172.2 L1233.1,172.3 L1233.6,173.0 L1234.0,173.5 L1234.5,173.7 L1234.9,175.0 L1235.4,175.6 L1235.9,176.0 L1236.3,175.4 L1236.8,176.2 L1237.3,175.4 L1237.7,176.5 L1238.2,176.2 L1238.7,175.6 L1239.1,176.8 L1239.6,176.9 L1240.1,174.6 L1240.6,171.9 L1241.0,170.3 L1241.5,168.6 L1242.0,165.9 L1242.5,164.8 L1243.0,165.5 L1243.4,166.5 L1243.9,165.9 L1244.4,166.6 L1244.9,168.0 L1245.3,164.8 L1245.8,166.2 L1246.3,165.9 L1246.8,166.0 L1247.3,168.0 L1247.8,167.6 L1248.3,166.2 L1248.8,168.8 L1249.3,168.3 L1249.8,168.4 L1250.3,169.0 L1250.8,169.6 L1251.3,169.0 L1251.8,170.2 L1252.3,171.9 L1252.8,175.5 L1253.2,175.5 L1253.7,177.9 L1254.2,180.5 L1254.7,182.0 L1255.2,181.3 L1255.7,182.8 L1256.2,184.0 L1256.7,183.8 L1257.2,185.4 L1257.7,187.5 L1258.1,189.4 L1258.5,192.5 L1259.0,195.1 L1259.5,196.9 L1260.0,198.2 L1260.4,199.9 L1260.9,201.2 L1261.4,202.3 L1261.9,203.3 L1262.3,202.4 L1262.8,204.2 L1263.3,204.8 L1263.7,209.0 L1264.1,210.3 L1264.5,213.3 L1264.9,215.7 L1265.3,218.6 L1265.7,221.2 L1266.2,219.9 L1266.6,220.3 L1267.1,219.1 L1267.6,218.3 L1268.0,218.4 L1268.5,218.2 L1268.9,215.1 L1269.4,215.7 L1269.9,214.7 L1270.4,214.3 L1270.8,212.6 L1271.3,213.9 L1271.8,214.6 L1272.3,212.8 L1272.8,212.6 L1273.2,209.1 L1273.7,209.9 L1274.2,209.7 L1274.7,207.8 L1275.1,208.9 L1275.6,207.3 L1276.1,206.5 L1276.5,206.3 L1277.0,205.8 L1277.4,205.8 L1277.9,203.6 L1278.4,203.9 L1278.8,202.6 L1279.2,199.4 L1279.7,201.1 L1280.2,199.1 L1280.6,196.8 L1281.0,197.4 L1281.5,196.3 L1282.0,196.1 L1282.4,196.2 L1282.9,197.2 L1283.3,195.1 L1283.8,196.9 L1284.3,197.4 L1284.7,195.3 L1285.2,196.3 L1285.7,197.2 L1286.2,194.9 L1286.7,194.4 L1287.2,195.5 L1287.7,194.3 L1288.2,193.9 L1288.7,192.5 L1289.2,193.9 L1289.6,195.3 L1290.1,194.5 L1290.6,194.8 L1291.1,195.5 L1291.5,195.8 L1292.0,195.4 L1292.5,196.3 L1293.0,195.3 L1293.4,196.4 L1293.9,197.0 L1294.4,193.5 L1294.8,196.0 L1295.3,196.4 L1295.8,194.6 L1296.2,196.5 L1296.7,195.1 L1297.2,196.2 L1297.6,200.8 L1298.0,203.8 L1298.5,204.8 L1298.9,208.7 L1299.4,207.5 L1299.8,212.5 L1300.3,214.3 L1300.7,217.5 L1301.2,218.1 L1301.7,219.1 L1302.2,218.7 L1302.6,219.9 L1303.1,217.9 L1303.6,219.4 L1304.1,223.7 L1304.6,229.1 L1305.1,229.3 L1305.6,230.8 L1306.0,231.8 L1306.5,230.9 L1307.0,232.1 L1307.5,233.9 L1308.0,237.6 L1308.4,238.5 L1308.9,241.8 L1309.4,245.1 L1309.9,247.0 L1310.4,250.4 L1310.9,253.4 L1311.4,254.2 L1311.9,251.8 L1312.4,251.4 L1312.8,250.1 L1313.3,250.4 L1313.8,250.4 L1314.3,248.6 L1314.8,247.5 L1315.3,244.6 L1315.7,244.2 L1316.2,243.4 L1316.7,240.8 L1317.2,238.6 L1317.7,237.6 L1318.1,235.5 L1318.6,234.2 L1319.1,233.0 L1319.6,231.8 L1320.1,231.0 L1320.6,231.9 L1321.1,231.0 L1321.6,228.8 L1322.1,230.1 L1322.6,228.1 L1323.1,227.2 L1323.5,225.7 L1324.0,225.6 L1324.5,224.3 L1325.0,224.3 L1325.5,225.0 L1325.9,223.8 L1326.4,224.5 L1326.9,225.3 L1327.4,224.0 L1327.9,223.0 L1328.3,222.1 L1328.8,220.8 L1329.3,220.4 L1329.8,220.2 L1330.3,221.4 L1330.8,219.4 L1331.2,218.5 L1331.7,219.9 L1332.2,218.8 L1332.7,219.4 L1333.2,219.1 L1333.7,218.3 L1334.2,217.8 L1334.7,215.5 L1335.2,216.4 L1335.7,215.7 L1336.1,219.0 L1336.6,218.5 L1337.1,224.5 L1337.6,229.1 L1338.1,230.7 L1338.6,230.4 L1339.0,230.6 L1339.5,231.5 L1340.0,232.1 L1340.5,233.4 L1341.0,237.9 L1341.5,239.8 L1342.0,242.0 L1342.5,244.6 L1343.0,247.6 L1343.5,249.0 L1344.0,249.3 L1344.4,251.6 L1344.9,251.8 L1345.4,253.4 L1345.9,259.5 L1346.4,262.2 L1346.9,263.7 L1347.4,264.0 L1347.8,264.4 L1348.3,264.8 L1348.8,265.1 L1349.3,266.1 L1349.8,265.9 L1350.3,268.0 L1350.7,269.0 L1351.2,270.4 L1351.7,271.9" fill="none" stroke="#375a94" stroke-width="3.9" stroke-linejoin="round" stroke-linecap="round"/>
<path d="M154.1,196.1 L154.6,196.4 L155.0,195.5 L155.5,195.7 L155.9,194.9 L156.4,194.9 L156.8,194.2 L157.3,194.2 L157.7,193.6 L158.2,193.5 L158.7,192.9 L159.1,192.7 L159.6,192.3 L160.0,192.0 L160.5,191.3 L160.9,192.2 L161.4,191.2 L161.8,192.0 L162.3,191.1 L162.7,191.8 L163.2,190.9 L163.7,191.6 L164.1,190.8 L164.6,191.4 L165.0,190.7 L165.5,191.3 L165.9,190.5 L166.4,191.1 L166.8,190.4 L167.3,191.1 L167.8,190.3 L168.2,191.1 L168.7,190.2 L169.1,191.1 L169.6,190.1 L170.0,191.1 L170.5,190.0 L170.9,191.1 L171.4,189.9 L171.8,191.1 L172.3,189.9 L172.8,191.1 L173.2,189.8 L173.7,191.1 L174.1,189.7 L174.6,191.1 L175.0,189.6 L175.5,191.1 L175.9,189.6 L176.4,190.9 L176.8,189.6 L177.3,190.8 L177.8,189.6 L178.2,190.6 L178.7,189.6 L179.1,190.4 L179.6,189.6 L180.0,190.2 L180.5,189.6 L180.9,190.0 L181.4,189.6 M246.5,208.0 L247.0,209.7 L247.4,211.5 L247.9,213.2 L248.3,210.7 L248.8,216.4 L249.2,210.0 L249.7,216.2 L250.1,209.2 L250.6,216.1 L251.0,208.4 L251.5,215.9 L251.9,208.0 L252.4,215.5 L252.8,207.6 L253.3,215.1 L253.7,207.2 L254.2,214.7 L254.6,207.2 L255.1,213.6 L255.5,206.5 L256.0,212.6 L256.5,205.9 L256.9,211.7 L257.4,205.3 L257.8,210.8 L258.3,206.0 L258.7,207.7 L259.2,204.2 L259.6,206.0 L260.1,202.4 L260.5,204.4 L261.0,200.6 L261.4,205.5 L261.9,198.2 L262.3,205.2 L262.8,198.2 L263.2,204.8 L263.7,198.1 L264.1,204.4 L264.6,198.0 L265.0,203.6 L265.5,198.1 L266.0,202.9 L266.4,197.5 L266.9,202.2 L267.3,196.9 L267.8,201.5 L268.2,196.3 L268.7,199.9 L269.1,196.2 L269.6,198.6 L270.0,195.2 L270.5,197.2 L270.9,194.1 L271.4,195.9 L271.8,192.0 L272.3,196.7 L272.7,192.0 L273.2,196.6 L273.6,191.9 L274.1,196.5 L274.5,191.8 L275.0,196.3 M280.0,194.2 L280.5,196.3 L280.9,193.9 L281.4,197.6 L281.8,193.6 L282.3,198.4 L282.7,193.1 L283.2,197.9 L283.6,192.7 L284.1,197.4 L284.5,192.2 L285.0,196.9 L285.4,191.7 L285.9,196.6 L286.3,192.0 L286.8,196.8 L287.2,192.7 L287.7,196.9 L288.2,193.3 L288.6,197.1 L289.1,194.0 L289.5,197.2 L290.0,194.3 L290.4,197.7 L290.9,194.3 L291.3,198.1 L291.8,194.3 L292.2,198.5 L292.7,194.3 L293.1,198.8 L293.6,194.3 L294.0,198.6 L294.5,194.3 L294.9,198.2 L295.4,194.3 L295.9,197.9 L296.3,194.3 L296.8,197.5 L297.2,194.5 L297.7,196.6 L298.1,193.9 L298.6,195.9 L299.0,193.3 L299.5,195.3 L299.9,192.6 L300.4,194.7 L300.8,192.0 L301.3,195.1 L301.7,192.4 L302.2,195.4 L302.6,192.7 L303.1,195.7 L303.5,193.1 L304.0,196.1 L304.5,193.5 L304.9,195.6 L305.4,192.9 L305.8,195.0 L306.3,192.3 L306.7,193.0 L307.2,192.1 L307.6,191.8 L308.1,189.8 L308.5,192.0 L309.0,187.4 L309.4,190.7 L309.9,186.9 L310.3,189.4 L310.8,186.3 L311.2,188.1 L311.7,185.7 M314.3,182.6 L314.8,182.0 L315.2,181.4 L315.7,181.4 L316.1,179.9 L316.6,180.8 L317.0,178.6 L317.5,179.7 L318.0,177.9 L318.4,178.2 L318.9,177.2 L319.3,176.8 L319.8,176.2 L320.3,175.7 L320.7,174.8 L321.2,174.0 L321.6,173.2 L322.1,172.4 L322.5,171.6 L323.0,172.6 L323.5,169.8 L323.9,172.4 L324.4,170.0 L324.8,172.1 L325.3,170.3 L325.8,171.9 L326.2,170.5 L326.7,171.4 L327.1,171.9 L327.6,172.4 L328.0,172.6 L328.5,173.5 L329.0,173.2 L329.4,174.6 L329.9,173.9 L330.3,175.9 L330.8,174.0 L331.3,176.0 L331.7,174.7 L332.2,176.1 L332.6,175.4 L333.1,176.2 L333.5,176.1 L334.0,176.3 M339.5,166.2 L340.0,167.2 L340.4,166.6 L340.9,167.7 L341.3,167.0 L341.8,168.2 L342.2,167.3 L342.7,168.6 L343.2,167.7 L343.6,169.1 L344.1,168.1 L344.5,169.6 L345.0,168.4 M697.0,214.4 L697.5,224.1 L697.9,215.5 L698.4,225.2 L698.8,216.7 L699.3,226.3 L699.7,217.9 L700.2,228.2 L700.6,217.7 L701.1,227.6 L701.5,218.6 L702.0,227.1 L702.5,219.5 L702.9,226.5 L703.4,220.1 L703.8,225.9 L704.3,219.5 L704.7,225.5 L705.2,219.0 L705.6,225.2 L706.1,219.3 L706.5,223.3 L707.0,218.5 L707.5,221.8 L707.9,217.8 L708.4,220.4 L708.8,217.1 L709.3,219.5 L709.7,215.8 L710.2,218.7 L710.6,214.9 L711.1,218.0 L711.5,213.9 L712.0,217.2 M717.0,208.1 L717.5,210.6 L717.9,207.4 L718.4,209.5 L718.8,206.6 L719.3,208.3 L719.7,205.9 L720.2,206.2 L720.6,205.3 L721.1,204.4 L721.5,203.5 L722.0,202.6 L722.4,201.7 L722.9,200.8 L723.3,198.5 L723.8,201.7 L724.2,198.0 L724.7,200.9 L725.1,197.5 L725.6,200.1 L726.0,197.0 L726.5,199.3 L726.9,196.7 L727.4,199.8 L727.8,197.2 L728.3,199.9 L728.7,197.7 L729.2,200.1 L729.6,198.2 L730.1,200.1 L730.5,198.1 L731.0,199.8 L731.4,197.6 L731.9,199.5 L732.3,197.0 L732.8,199.2 L733.2,196.5 L733.7,198.9 L734.1,195.9 L734.6,198.6 L735.0,195.4 L735.5,198.3 L735.9,194.8 L736.4,197.9 L736.8,194.3 L737.3,197.9 L737.7,194.1 L738.2,197.9 L738.6,194.2 L739.1,197.9 L739.5,194.3 L740.0,197.9 L740.5,194.5 L740.9,197.9 L741.4,194.7 L741.8,198.1 L742.3,194.8 L742.7,198.4 L743.2,194.9 L743.6,198.7 L744.1,195.1 L744.5,199.0 L745.0,195.2 L745.4,198.8 L745.9,195.2 L746.3,198.2 L746.8,195.0 L747.2,197.7 L747.7,194.9 L748.1,197.1 L748.6,194.7 L749.0,196.4 L749.5,194.5 L749.9,196.1 L750.4,193.8 L750.8,195.7 L751.3,193.1 L751.7,195.3 L752.2,192.3 L752.6,195.6 L753.1,192.5 L753.5,195.7 L754.0,192.8 L754.4,195.9 L754.9,193.1 L755.3,196.0 L755.8,193.3 L756.2,195.7 L756.7,193.3 L757.1,195.1 L757.6,192.7 L758.0,194.5 L758.5,192.2 L758.9,193.9 L759.4,191.9 L759.8,192.7 L760.3,191.2 L760.7,191.7 L761.2,190.5 L761.6,190.8 L762.1,189.8 L762.5,189.8 L763.0,189.1 M827.0,201.6 L827.5,201.5 L827.9,200.5 L828.4,199.7 L828.8,198.9 L829.3,198.1 L829.7,197.3 L830.2,198.3 L830.6,196.1 L831.1,198.6 L831.5,196.0 L832.0,198.9 L832.4,195.8 L832.9,199.2 L833.3,195.8 L833.8,198.6 L834.2,195.4 L834.7,198.1 L835.1,195.0 L835.6,197.6 L836.1,194.5 L836.5,197.8 L837.0,194.7 L837.4,198.1 L837.9,194.9 L838.3,198.5 L838.8,195.1 L839.2,198.8 L839.7,195.3 L840.1,198.7 L840.6,195.4 L841.0,198.3 L841.5,195.5 L841.9,197.8 L842.4,195.7 L842.8,197.3 L843.3,195.8 M1118.0,197.3 L1118.5,202.8 L1118.9,197.3 L1119.4,202.8 L1119.8,197.4 L1120.3,202.8 L1120.7,197.4 L1121.2,202.9 L1121.6,197.5 L1122.1,202.9 L1122.5,197.6 L1123.0,202.9 L1123.4,197.6 L1123.9,203.0 L1124.3,197.7 L1124.8,203.0 L1125.2,197.8 L1125.7,203.0 L1126.1,197.8 L1126.6,203.0 L1127.0,197.9 L1127.5,203.1 L1128.0,198.0 L1128.4,203.1 L1128.9,198.0 L1129.3,203.1 L1129.8,198.1 L1130.2,203.2 L1130.7,198.1 L1131.1,203.2 L1131.6,198.2 L1132.0,203.2 L1132.5,198.3 L1132.9,203.3 L1133.4,198.3 L1133.8,203.3 L1134.3,198.4 L1134.7,203.3 L1135.2,198.5 L1135.6,203.4 L1136.1,198.5 L1136.5,203.4 L1137.0,198.6 L1137.5,203.4 L1137.9,198.6 L1138.4,203.5 L1138.8,198.7 L1139.3,203.5 L1139.7,198.8 L1140.2,203.5 L1140.6,198.8 L1141.1,203.6 L1141.5,198.9 L1142.0,203.6 L1142.4,199.0 L1142.9,203.6 L1143.3,199.0 L1143.8,203.7 L1144.2,199.1 L1144.7,203.7 L1145.1,199.2 L1145.6,203.7 L1146.0,199.2 L1146.5,203.7 M1150.5,215.5 L1151.0,225.7 L1151.4,216.1 L1151.9,226.1 L1152.3,216.8 L1152.8,226.5 L1153.2,217.4 L1153.7,226.9 L1154.2,218.0 L1154.6,227.3 L1155.1,218.4 L1155.5,227.4 L1156.0,218.1 L1156.5,226.9 L1156.9,217.8 L1157.4,226.5 L1157.8,217.5 L1158.3,226.1 L1158.8,217.2 L1159.2,225.7 L1159.7,217.0 L1160.1,225.2 L1160.6,216.7 L1161.0,224.8 L1161.5,216.4 M1165.0,207.3 L1165.5,212.1 L1165.9,206.4 L1166.4,210.9 L1166.8,205.5 L1167.3,209.7 L1167.7,204.6 L1168.2,208.5 L1168.6,203.7 L1169.1,207.2 L1169.5,202.8 L1170.0,206.0 L1170.5,201.8 L1170.9,204.8 L1171.4,200.6 L1171.8,204.4 L1172.3,200.0 L1172.7,203.5 L1173.2,199.5 L1173.6,202.6 L1174.1,198.9 L1174.5,201.7 L1175.0,198.4 L1175.5,200.7 L1175.9,197.9 L1176.4,200.6 L1176.8,197.2 L1177.3,200.3 L1177.7,197.1 L1178.2,200.0 L1178.6,197.0 L1179.1,199.7 L1179.5,196.9 L1180.0,199.4 L1180.5,196.8 L1180.9,199.1 L1181.4,196.7 L1181.8,198.8 L1182.3,196.6 L1182.7,198.5 L1183.2,196.5 L1183.6,198.2 L1184.1,196.4 L1184.5,197.9 L1185.0,196.3 M1281.0,196.8 L1281.5,198.7 L1281.9,196.7 L1282.4,198.7 L1282.8,196.7 L1283.3,198.7 L1283.7,196.7 L1284.2,198.7 L1284.7,196.6 L1285.1,198.7 L1285.6,196.6 L1286.0,198.7 L1286.5,196.6 L1286.9,198.7 L1287.4,196.6 L1287.9,198.7 L1288.3,196.5 L1288.8,198.7 L1289.2,196.5 L1289.7,198.7 L1290.1,196.5 L1290.6,198.7 L1291.1,196.4 L1291.5,198.7 L1292.0,196.4 L1292.4,198.7 L1292.9,196.4 L1293.3,198.7 L1293.8,196.4 L1294.3,198.7 L1294.7,196.3 L1295.2,198.7 L1295.6,196.3 L1296.1,198.7 L1296.5,196.3 L1297.0,198.7" fill="none" stroke="#375a94" stroke-width="3.9" stroke-linejoin="round" stroke-linecap="round"/>
<ellipse cx="534.6" cy="285.2" rx="166.1" ry="134.1" fill="none" stroke="#c9342a" stroke-width="3"/>
<ellipse cx="984.9" cy="286.8" rx="166.2" ry="134.1" fill="none" stroke="#c9342a" stroke-width="3"/>
<!-- legend -->
<rect x="142.1" y="586.2" width="464.3" height="91.4" fill="#ffffff" stroke="#1c140c" stroke-width="1.5"/>
<line x1="166" y1="616.8" x2="202.1" y2="616.8" stroke="#65a558" stroke-width="3.3" stroke-linecap="round"/>
<line x1="166" y1="645.8" x2="202.1" y2="645.8" stroke="#375a94" stroke-width="3.3" stroke-linecap="round"/>
<text class="t w" x="213.8" y="622.6" font-size="25.3" textLength="369.5" lengthAdjust="spacingAndGlyphs">Scénario avec exploitation normale</text>
<text class="t w" x="212.8" y="655.8" font-size="25.3" textLength="324.5" lengthAdjust="spacingAndGlyphs">Scénario avec perte de secteur</text>
<!-- annotation box -->
<rect x="589.2" y="505.4" width="322.8" height="51.6" fill="#ffffff" stroke="#c9342a" stroke-width="1.8"/>
<text class="t w" x="606.2" y="540.5" font-size="27.2" textLength="290" lengthAdjust="spacingAndGlyphs">Zones de perte de secteur</text>
<!-- arrows -->
<line x1="651" y1="505" x2="622.5" y2="440" stroke="#c9342a" stroke-width="3.4"/>
<polygon points="618,430.4 616.9,443.5 628.2,438.6" fill="#c9342a"/>
<line x1="849.5" y1="505" x2="882.5" y2="438" stroke="#c9342a" stroke-width="3.4"/>
<polygon points="887.4,429 877,436.4 887.4,441.9" fill="#c9342a"/>
<!-- frame -->
<rect x="111.4" y="75.1" width="1248.6" height="631.5" fill="none" stroke="#1c140c" stroke-width="2.1"/>
<!-- axis labels -->
<text class="t g" x="705.8" y="743.9" font-size="30.2" textLength="83" lengthAdjust="spacingAndGlyphs">Temps</text>
<text class="t g" transform="translate(92.7,452.4) rotate(-90)" x="0" y="0" font-size="30.4" textLength="151.5" lengthAdjust="spacingAndGlyphs">SoC Batterie</text>
</svg>
</body></html>
